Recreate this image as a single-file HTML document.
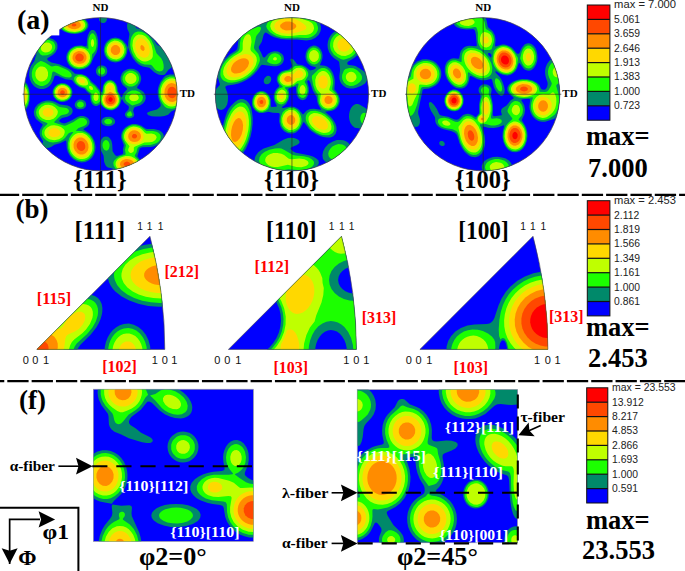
<!DOCTYPE html>
<html><head><meta charset="utf-8"><style>html,body{margin:0;padding:0;background:#fff;overflow:hidden}svg{display:block}</style></head><body>
<svg width="685" height="571" viewBox="0 0 685 571">
<defs>
<clipPath id="pf0"><circle cx="100.55" cy="94.25" r="76.6"/></clipPath>
<clipPath id="pf1"><circle cx="291.95" cy="94.25" r="76.6"/></clipPath>
<clipPath id="pf2"><circle cx="483.2" cy="94.25" r="76.6"/></clipPath>
<clipPath id="tr0"><path d="M36.80 349.40 L164.80 349.40 A437.02 437.02 0 0 0 149.91 236.29 Z"/></clipPath>
<clipPath id="tr1"><path d="M228.40 349.40 L356.40 349.40 A437.02 437.02 0 0 0 341.51 236.29 Z"/></clipPath>
<clipPath id="tr2"><path d="M419.90 349.40 L547.90 349.40 A437.02 437.02 0 0 0 533.01 236.29 Z"/></clipPath>
<clipPath id="od0"><rect x="93.3" y="389.2" width="160.1" height="152.4"/></clipPath>
<clipPath id="od1"><rect x="357.2" y="389.5" width="160.3" height="153.3"/></clipPath>
</defs>
<rect width="685" height="571" fill="#fff"/>
<g clip-path="url(#pf0)">
<rect x="22.95" y="16.65" width="155.2" height="155.2" fill="#0000ff"/>
<path d="M72.5 16.1 76.5 16.2 80 16.9 83.3 18.2 86 20 87.7 22.2 88.5 24.7 88.1 27.2 86.9 29.2 84.5 31.2 82 32.4 78.5 33.5 74.9 33.9 71.5 33.8 68 33.1 64.5 31.7 62.2 30.2 60.5 28.2 59.6 25.7 59.8 23.2 60.9 21.2 63.1 19.2 65.8 17.7 69 16.6ZM100.5 16.1 106 16.3 106.8 17.7 107 19.2 106.6 20.7 105.5 22.2 104 22.9 102.5 23 101 22.4 100 21.6 99.2 20.2 99 18.7 99.5 17.2ZM130.4 20.1 132.4 20.4 133.8 21.7 134.8 23.7 135.8 27.2 136.6 28.2 143.4 30 145.9 31.4 148.4 33.3 151.9 37.2 156.9 44.6 157.9 45.3 160.9 46.5 162.9 47.9 165.4 50.6 167.9 54.1 171.1 60.6 171.9 63.7 172 66.2 171.4 67.7 168.5 69.7 164.9 74.4 163.4 75 161.4 75.1 158.9 74.7 156.9 73.8 154.3 72.2 149.4 67.8 142.9 66.5 139.1 64.7 135.9 62 132.9 58.2 130.3 53.2 128.1 47.2 128.4 41.2 129.4 34.2 129.1 32.7 127.3 28.7 127 25.2 127.5 23.2 128.3 21.7 129.2 20.7ZM91.5 29.9 93.5 29.9 95 31 96.5 33.5 97.5 36.7 98.1 40.7 98.1 45.2 97.5 49.5 96.4 52.7 93.7 57.2 91.2 63.2 89.5 65.5 87.5 67.2 84 68.9 80.5 69.6 77 69.4 73.5 68.4 71.5 67.3 69.6 65.7 68.1 63.7 67.1 61.7 66.5 59.5 66.3 57.2 66.6 54.7 67.4 52.7 68.6 50.7 70.4 48.7 72.6 47.2 75 46.1 79.5 45.4 82 45.6 85.5 46.4 86.5 46.2 86.8 45.2 87.1 39.2 87.9 35.2 89.5 31.8ZM115.5 37.6 119.4 38.4 123 40.4 126.1 44.2 127.7 47.2 127.8 48.2 126.8 53.7 125.7 56.2 124.4 58.2 122.5 60 120.4 61.2 118 62.1 115.5 62.4 113 62.1 111 61.4 108.9 60.3 107.1 58.7 105.6 56.7 104.6 54.7 103.7 50.2 104.5 45.7 105.4 43.5 106.9 41.5 109 39.7 111 38.6 112.9 37.9ZM45 38.1 49.5 37.9 53.2 39.2 56.1 41.7 57 43.2 57.5 45.2 57.3 48.7 55.5 52.3 53 54.7 47.4 58.2 47.2 59.2 48.3 60.7 51.4 62.6 59 64.2 67 67.7 71 70 75 73.8 81.5 74 86 75.7 88.5 77.7 91.7 81.7 95.9 85.2 101.5 92.3 102 92.1 102.3 91.2 103 85.7 104.6 82.7 106 81.2 107.8 80.2 109.5 79.8 111.5 79.9 114 81.2 116.1 83.7 117.3 86.7 117.9 91.2 121.4 97.5 121.9 97.1 123.6 93.2 127.2 89.2 126.8 88.2 122.7 84.7 121 81.6 120.5 79.2 120.5 77.2 122 73.3 123.5 71.5 125.3 70.2 127.4 69.2 129.4 68.7 131.6 68.7 133.9 69.1 135.9 69.9 137.9 71.3 139.4 73 140.4 74.9 141.1 77.2 141.2 79.2 140.2 82.7 137.4 86.7 137 87.7 137.9 88.5 141.8 90.7 143.9 92.6 145.4 95.2 145.8 98.2 144.8 101.2 142.7 103.7 139.9 105.4 134.9 107.1 133.9 108.2 133.1 110.7 134.3 114.7 133.5 116.7 131.4 118 128.9 118.3 127 117.7 125.5 116.3 125 115.2 125 113.7 125.9 112.2 128.3 109.7 128.8 108.2 128.9 106.7 128.2 105.7 124.3 102.7 122 98.9 121.5 99.5 120.2 103.7 118.3 106.7 116 108.8 112.7 110.2 109.5 110.3 106 109.3 103.5 107.5 100.4 104 97 105.9 95.5 106 94 105.5 92.4 104.2 91 101.7 90.4 99.2 90.1 95.2 89.5 93.8 87 91.7 84.5 88.8 79.7 87.2 77 85.6 74.8 83.7 72.5 80.5 71.5 80 65.5 79.2 57.5 75.7 55.5 75.4 54.5 76.3 53 80.7 51.4 83.7 49.2 86.2 46.5 88 43.5 89 40 89 37 88 34.2 86.2 31.7 83.2 29.8 79.2 29.1 74.7 29.5 70.2 30.9 66.1 34.5 60.7 35.2 57.7 36.4 54.7 35.4 48.7 35.6 46.7 36.3 44.7 37.6 42.7 39.6 40.7 42 39.2ZM100 65.5 102.5 65.4 104.4 66 106 67.3 107 69.2 107.3 71.7 106.7 73.7 105.4 75.2 103.5 76.4 101 76.7 99 76.1 97.2 74.7 96.1 72.7 95.9 70.2 96.7 68.2 98 66.6ZM169.4 74.6 171.9 74.4 173.9 74.5 176.4 75.4 178.9 76.9 178.9 107.9 176.4 109.3 171.5 111.2 168.1 114.7 164.4 116.1 160.4 116.6 155.4 116.6 151.7 116.2 148.5 115.2 147 113.7 147.4 112.7 148 112.2 150.3 111.2 156.9 109.4 158.9 108 160.6 106.2 160.7 104.2 158.6 98.7 157.8 94.7 157.7 90.7 158.5 86.7 160.4 82 163.9 77.2 165.9 75.6ZM23 82.1 24.5 81.9 25.5 82.2 27.6 84.7 29.2 89.2 29.9 94.7 29.6 100.2 28.5 105.2 26.5 108.8 25.5 109.7 24 110.1 22.5 109.6 22.4 83.7 22.5 82.4ZM61.5 83.1 65.5 83.5 68.8 85.2 71.4 88.2 72.5 91.7 72 95.6 70.1 98.7 67 101 63.5 102 61 102 59 101.5 56 99.8 53.5 96.7 52.5 93.2 52.9 89.7 54.6 86.7 57.5 84.3ZM80 99.6 82 99.8 84 100.6 85.5 102.1 86.1 103.7 86.1 105.6 85.3 107.2 83.5 108.7 81.4 109.3 79.5 109.3 77.3 108.7 75.5 107.2 74.8 105.7 74.8 103.7 75.9 101.7 77.9 100.1ZM46.5 100.6 49.5 100.6 52 101 55 102 60 104.4 67.5 105.4 70.1 106.7 72 108.5 72.6 110.2 72.6 111.7 72.1 113.2 70.9 114.7 68 116.4 62 117.9 59.7 119.7 59.1 121.2 61.3 122.7 64 123.4 66 123.1 72.5 120 77.5 116.9 80.5 116 83 116 85 116.4 87 117.4 88.5 118.8 89.5 121.1 89.5 122.7 89.1 124.2 87.6 126.2 83.7 128.7 83.5 129.2 83.8 129.7 89.2 133.2 92.3 136.7 94.7 141.7 95.6 146.7 95.2 150.7 94 154.5 92 157.7 89.5 160 85.5 162 81.5 162.4 77 161.4 73 159 69.9 155.7 67.7 151.7 66.7 147.7 66.4 141.7 66 140.6 65 140.8 60.5 142.9 54.5 144.7 51 147 49 147.8 47 148 45 147.7 43.5 147.2 42.3 146.2 41.9 144.7 43 142.2 43.1 141.2 40.2 136.2 39.5 132.7 40 129.7 42.6 125.2 42.6 124.2 38 120.8 35.9 118.7 34.2 115.2 33.8 111.7 35 107.7 37.8 104.2 42 101.7ZM105.5 117.1 109.5 116.7 111.5 117.2 113.2 118.2 114.3 119.2 115 120.7 115.1 122.2 114.4 123.7 112 125.6 109 126.3 106 126.1 103 124.7 101.5 122.7 101.5 120.4 103 118.3ZM132.4 124.1 135.9 124 138.9 124.7 141.4 125.7 145.4 128.5 146.9 129.1 153.9 129 158.9 130.2 161.4 131.7 163.1 133.7 163.8 135.7 163.7 138.2 162.8 140.2 161.2 142.2 158.9 144 156.4 145.3 153.4 146.4 150.4 147 142.4 147.2 140.9 147.7 139.7 148.6 137.3 156.2 140.6 160.7 141.3 162.7 141.4 164.7 140.4 167.7 137.8 170.7 134.2 172.7 119.7 172.7 112.5 168.6 107.9 167.5 106.5 166.5 105.5 165.2 104.1 161.7 103.6 155.7 101.1 150.7 100.3 148.2 99.9 145.2 100.3 142.2 101.5 139.3 103.5 137.1 105.5 136.4 108 136.8 110 138.4 111.5 141.1 112.2 144.2 112.6 151.2 115 155 116 155.8 117 155.9 122.5 154.2 123.3 153.1 123 149.2 123.9 145.2 121.3 138.2 121.2 135.2 121.7 132.7 123.2 129.7 125.5 127.2 128.8 125.2Z" fill="#00896a"/>
<path d="M72 17.1 75.5 17.1 79 17.6 82 18.7 84.5 20.2 86.1 22.2 86.9 24.2 86.7 26.7 85.6 28.7 83.9 30.2 81.2 31.7 78 32.6 75 33 71.4 32.8 68.5 32.2 65.7 31.2 63.4 29.7 62.1 28.2 61.1 26.2 61.1 24.2 62 22 63.7 20.2 66 18.7 68.9 17.7ZM137.9 31.6 141.4 31.8 144.9 33.2 148.4 36 151.4 40 153.7 44.7 156.4 52.9 157.4 54.3 161.2 58.2 162.8 61.2 163.6 64.7 163.7 67.7 163.2 69.7 161.9 71.1 159.4 71.6 156.9 70.7 154.9 69.2 151.9 65.6 150.6 64.7 144.4 64.4 140.9 63.3 137.3 60.7 133.9 56.6 132 52.7 130.7 48.7 130.2 44.7 130.5 40.7 131.4 37.1 133.1 34.2 134.9 32.5ZM91.5 33.5 92.5 33.2 93.5 33.5 95.3 35.7 96.4 39.7 96.7 43.7 96.3 47.2 95.5 50 94.5 51.7 92.1 54.2 91.5 59.2 90.4 62.2 89.1 64.2 87.5 65.7 85.5 67.1 83 68 80.5 68.5 78 68.4 73.5 67 70 64.2 68 60.7 67.5 56.7 68.7 52.7 70.1 50.7 71.9 49 74.5 47.5 77 46.8 81.5 46.6 84 47.3 87.5 48.8 88.4 48.7 88.3 42.2 88.7 38.7 90 35.2ZM114 39.1 118 39.3 120 40 122 41.3 124.7 44.7 126 48.7 125.7 52.7 123.9 56.7 121 59.4 119 60.4 116.9 60.9 112.9 60.6 111 59.9 109 58.7 106.5 55.6 105.1 51.7 105.2 47.7 107 43.6 110 40.7 112 39.6ZM45 40.1 49 39.9 52.5 41.3 54 42.6 54.8 44.2 55.3 45.7 55.3 47.7 54.6 49.7 53.7 51.2 51 53.7 47 55.2 42.5 55.6 40.5 54.4 38.5 51.7 37.8 49.7 37.8 47.2 38.7 44.7 40.3 42.7 42.5 41.1ZM40.5 61.1 42 61.2 45 62.5 51 66.2 52 66.4 55.5 65.8 58 66 65.8 69.2 68.5 70.7 70.7 72.7 71.7 74.7 71.6 76.2 71 76.9 69.5 77.5 66 77.3 62.8 76.2 54.5 71.8 53 71.6 52.2 72.7 51.4 77.2 50.5 79.7 49.4 81.7 47.6 83.7 45.5 85.1 43 85.9 40.5 85.9 38 85.1 35.2 83.2 33.1 80.2 31.9 76.7 31.8 72.7 32.6 69.2 34.5 65.7 37 63.3ZM101 67.6 102.5 67.6 103.5 68 104.4 69 105 70.2 105 71.7 104.7 72.7 103.9 73.7 102.5 74.4 101 74.4 100 74.1 98.8 73.2 98.2 71.7 98.2 70.2 98.6 69.2 99.6 68.2ZM129.4 70.6 132.9 70.8 135.9 72.2 137.9 74.3 139.1 77.2 139 80.2 137.6 83.2 135.4 85.2 132.4 86.5 128.9 86.4 126 85 123.6 82.7 122.5 79.7 122.6 76.7 124.1 73.7 126.5 71.7ZM78.4 75.1 80.5 75 83 75.5 85 76.3 87 77.7 88.5 79.3 90.5 82.7 94.8 86.2 99 91.6 100.9 95.6 102 94.7 103.3 92.2 103.8 86.7 104.4 84.8 105.6 83.2 107.5 81.6 109.5 81 111.5 81.2 113.5 82.2 114.8 83.7 115.7 85.2 116.3 87.2 116.8 91.2 119.1 95.2 119.9 97.7 119.8 101.7 119.2 103.7 118 105.7 116.5 107.3 114.3 108.7 112 109.4 109.5 109.4 106.5 108.5 104 106.7 102.3 104.7 100.5 100.9 98.2 103.2 96.9 103.8 95.5 103.9 94 103.2 93 102.1 91.9 100 91.5 97.7 91.5 94.2 91 92.9 88 90.7 85.5 87.7 81.5 86.6 79 85.6 76.5 83.7 74.9 81.6 74.1 79.2 74.4 77.2 76 75.9ZM169.9 76.6 172.4 76.4 174.4 76.7 176.9 77.6 178.9 78.9 178.9 106 175.4 107.9 171.9 108.7 167.4 108.3 165.9 107.6 164.4 106.2 162.2 103.2 160.6 100.2 159.6 97.2 159 93.7 159.1 90.7 159.6 87.7 160.5 85.2 161.9 82.3 163.4 80.4 165.4 78.6 167.4 77.4ZM23.5 84.1 24.5 84 25.5 84.5 27.1 86.7 28.4 90.5 29 95.2 28.7 100.2 27.7 104.2 26 107 25 107.8 24 108 22.5 107.4 22.5 84.6ZM61 84.1 64.5 84.2 67.5 85.4 69.9 87.7 71.3 90.7 71.3 94.2 70 97.2 67.5 99.6 64.5 100.8 61 100.9 57.6 99.7 55 97.2 53.7 94.2 53.7 90.7 55.1 87.7 57.5 85.5ZM131.9 90.6 135.9 90.6 139.4 91.9 141.9 94.2 143 97.2 142.3 100.2 140.4 102.4 137.9 103.8 132.4 105.5 131.4 105.1 126.8 101.7 125.4 99.7 125 97.7 125.5 95.2 126.9 93.2 129 91.7ZM79.4 101.6 82 101.8 83.6 103.2 83.9 105.2 83.4 106.2 82.5 107 81 107.5 79.5 107.4 78 106.7 77.3 105.7 77 104.7 77.4 103.1 78.3 102.2ZM45.5 102.6 49 102.4 52.5 103.1 54.9 104.2 59.5 106.9 66.5 107.9 68 108.9 68.9 110.2 68.9 111.7 68 113.2 66 114.3 62 115.1 60.5 115.8 54.3 121.7 54.2 122.2 54.9 122.7 63.4 125.5 65 125.7 66.5 125.3 73.5 121.9 77.9 118.9 79.9 118.1 83.5 118 85 118.7 86.2 119.7 86.8 120.7 87.1 122.2 86.7 123.7 86 124.7 84 126 78.5 128.1 75.7 130.7 82 131.2 86 132.7 89.8 135.7 92.5 139.7 94 144.7 94.1 147.7 93.9 150.2 93.1 152.7 92 155.1 89 158.5 87 159.7 84.2 160.7 81.5 160.9 79 160.5 76.5 159.5 74 157.9 72 156 70.2 153.7 69 150.9 68.2 148.2 68 142.7 69.2 138.2 70.6 135.7 73.3 132.2 73 131.9 71 132.2 69 133 67.8 134.2 65.2 137.7 63.5 139.3 60.5 141 57 142 53 142.4 49.5 141.9 46.5 140.4 43.5 137.7 42.5 135.9 41.8 134.2 42 130.7 43.6 127.7 47.6 123.7 47 122.9 41.5 120.8 39 119 36.7 115.7 36 112.2 36.7 109.2 38.6 106.2 41.5 104ZM129.4 111.4 130.4 111.2 130.9 111.5 132.2 114.2 132.1 115.2 131.4 115.9 129.4 116.6 127.8 116.2 126.9 114.7 127.5 113ZM106.5 119 108.9 118.8 111 119.5 112.2 121.2 111.8 122.7 110.8 123.7 109 124.2 106.9 124.2 105.5 123.5 104.5 122.4 104.2 121.2 105 119.9ZM131.4 125.6 135.4 125.2 138.9 126 141.4 127.2 146.4 131 152.9 130.9 156.5 131.7 158.4 132.7 160 134.2 160.7 135.7 160.8 137.7 160.1 139.7 158.9 141.2 157.1 142.7 154.9 143.8 150.4 145 142.9 145.3 139.4 146.6 137.8 147.7 137.3 148.7 136.6 152.2 134.7 155.6 135.3 156.7 138.4 159.7 139.5 161.7 140 164.7 139.2 167.2 136.5 170.2 132.9 172 130.6 172.7 123.4 172.6 119.1 171.2 115.7 168.7 113.7 165.7 113.3 162.7 114.1 160.7 116.7 158.2 119.5 156.6 125 154.7 125.7 154.2 125 149.7 126 145.2 122.9 139.1 122.5 136.7 122.7 134.2 123.8 131.2 125.8 128.7 128.4 126.7ZM105.5 140.1 107 140.2 108.2 141.2 109.1 142.7 109.6 144.7 109.5 146.6 108.9 148.7 108 150 106.5 150.7 105 150.3 104 149.4 103 147.7 102.5 145.7 102.6 143.7 103.1 142.2 104 140.9Z" fill="#1cff00"/>
<path d="M72 18.1 75 18.1 78 18.5 80.5 19.3 83 20.7 84.5 22.3 85.2 24.2 85.2 26.2 84.1 28.2 82.4 29.7 80.5 30.7 78 31.5 75 31.9 69.5 31.4 67 30.4 64.9 29.2 63.5 27.7 62.8 26.2 62.8 24.2 63.5 22.5 65 20.8 66.7 19.7 69.3 18.7ZM138.4 34.6 141.9 34.7 143.9 35.5 145.9 36.8 149.4 40.7 151.6 45.2 152.8 50.7 152.8 56.2 152.3 57.7 151.2 59.2 147.9 61.1 145.9 61.5 143.9 61.5 141.9 60.9 139.9 59.8 137.9 58.2 136.2 56.2 133.6 51.2 132.4 45.7 132.9 40.5 133.9 38.2 135 36.7 136.4 35.5ZM92.5 39 93 39.2 93.7 40.2 94.2 43.2 93.5 46.2 92.5 47 91.4 46.2 90.8 43.2 91.3 40.2ZM114.5 40.6 118 40.9 121.2 42.7 123.5 45.7 124.5 49.2 124.1 52.7 122.5 56 120 58.2 116.5 59.4 113 59.1 110 57.4 107.7 54.7 106.6 51.2 106.8 47.7 108.4 44.2 110.9 41.9ZM46.5 42.6 49 42.8 51 44 52 45.7 52.1 47.7 51.3 49.7 49.5 51.4 47.5 52.2 45 52.4 43 51.7 41.7 50.7 41 49.2 40.9 47.1 41.5 45.7 42.8 44.2 44.4 43.1ZM77 48.1 81 47.9 85 49.1 88.1 51.7 89.8 54.7 90.1 58.2 89 61.9 86.4 64.9 83 66.7 79 67.2 74.6 66.2 71.3 63.7 69.3 60.2 68.9 58.2 69 56.2 70.3 52.7 71.5 51.2 73.2 49.7ZM40 66.6 42.5 66.4 45 67.3 47 69.5 48 72.2 48 75.7 47 78.4 45 80.6 42.5 81.6 40 81.4 38 80.2 36.3 78.2 35.4 75.7 35.4 72.7 36.1 70.2 38 67.8ZM129.5 73.1 131.9 73.1 133.9 73.9 135.4 75.2 136.4 77.2 136.5 79.2 135.9 81.2 134.4 82.8 132.4 83.8 129.9 83.9 127.9 83.3 126.5 82.1 125.3 80.2 125.1 77.7 125.9 75.7 127.5 74ZM79 76.6 82.5 76.7 84.5 77.5 86 78.6 87.2 80.2 87.8 81.7 88.1 83.2 87.8 84.7 86 85.5 83 85.6 80 84.7 78 83.3 76.5 81.2 76.2 79.2 76.9 77.6ZM169.9 78.6 172.4 78.3 174.4 78.7 176.9 79.7 178.9 81.2 178.9 103.8 175.9 105.8 172.9 106.6 170.4 106.6 168.4 106.1 164.9 103.7 163.2 101.7 161.9 99.4 161 96.7 160.6 94.2 160.9 88.7 162.7 84.2 164.2 82.2 165.9 80.5 167.9 79.2ZM109 82.6 110.4 82.5 112 82.9 113.5 84 114.3 85.2 115.1 87.2 115.7 91.7 118 95.2 119 98.7 118.7 102.2 117 105.4 114.1 107.7 111 108.5 108 108.1 105 106.4 102.9 103.7 101.9 100.2 102.3 96.7 104.6 92.2 104.7 88.2 105.2 86.2 107 83.7ZM61.5 85.1 64.5 85.3 67 86.4 69 88.2 70.2 91.2 70.2 94.2 69 96.7 66.9 98.7 64 99.8 60.9 99.8 58 98.6 56 96.6 54.7 93.7 54.9 90.7 56.1 88.2 58.5 86.1ZM89.5 86 90.9 86.1 92.4 87.1 93.1 88.7 92.8 89.7 91.5 90 89.8 89.2 88.9 87.2 89 86.5ZM24 86.6 25.5 87.3 26.9 89.7 27.7 92.7 27.9 96.2 27.6 99.7 26.8 102.7 25.5 104.7 24 105.4 22.5 104.6 22.4 96.2 22.5 87.4ZM95.5 92.6 96.5 92.8 97.5 93.6 98.3 95.2 98.6 96.7 98.5 98.2 98 99.7 97 100.8 95.9 101 95 100.7 94 99.7 93.4 97.2 94 94.2 94.6 93.2ZM131.9 94.1 134.9 93.8 136.4 94.3 137.7 95.2 138.8 97.2 138.6 98.7 137.9 99.7 136.4 100.7 133.9 101.3 131.9 100.9 130.4 100 129.4 98.7 129.3 96.7 130.3 95.2ZM45 105.1 48.5 104.7 52 105.4 55 107.2 57.2 109.7 57.9 111.7 57.4 114.2 55.8 116.7 53.5 118.7 50 120 46 120 42.5 118.6 39.9 116.2 38.8 113.2 38.8 111.2 39.3 109.7 41.5 106.9ZM51 125.6 54 125.2 57.6 125.7 61 127.1 63.8 129.2 64.7 130.7 64.7 132.7 63.8 135.2 62.3 137.2 59 139.3 54.5 140.2 50 139.4 48 138.4 46.4 137.2 45.2 135.7 44.6 134.2 44.4 132.2 44.8 130.7 45.6 129.2 47 127.7 49 126.4ZM133.4 126.6 136.9 126.9 139.9 128 141.9 129.4 144.9 132.8 146.4 133.8 151.4 133.6 154.4 134.3 156.1 135.7 156.7 137.6 155.4 139.9 152.8 141.7 149.9 142.3 144.4 142.4 139.4 144.8 134.6 146.7 133.8 147.7 133.9 150.2 133.4 151.7 131.9 152.8 130.4 152.9 128.9 152.1 128.1 150.2 128.4 148.7 129.5 146.2 124.9 140.2 124.1 137.7 124.1 135.2 125 132.2 127 129.5 129.9 127.6ZM78 133.1 80 132.9 82.5 133.1 84.9 134 86.8 135.2 90.1 138.7 92.1 143.2 92.5 148.2 92.1 150.7 91.1 153.2 88.4 156.7 86.5 158 84.5 158.8 82.5 159.1 80 158.9 77.5 158.2 75.5 157 73.5 155.3 72 153.4 70.7 151.2 69.8 148.6 69.5 143.7 69.9 141.1 70.9 138.7 72.3 136.7 74 135 76 133.8ZM125.5 156.1 128.9 155.9 131.4 156.4 134.7 158.2 136.9 160.2 138.1 162.2 138.3 164.7 137.4 167.2 135.4 169.3 133.4 170.5 130.9 171.4 128.4 171.8 125.5 171.8 122.9 171.4 120.4 170.4 118.4 169.2 116.9 167.7 116 166.2 115.5 164.2 115.8 162.2 116.6 160.7 118 159.1 120.2 157.7 122.8 156.7Z" fill="#bfff00"/>
<path d="M71 19.6 73.5 19.3 76.5 19.4 79 20.1 80.9 21.1 82.5 22.7 83.3 24.2 83.3 25.7 82.7 27.2 81.5 28.5 80 29.4 76 30.6 71.5 30.5 67.5 29.1 66 27.9 65 26.7 64.6 25.2 64.9 23.7 65.9 22.2 67 21.2ZM138.9 38.5 141.4 38.3 144.4 39.5 146.9 42 148.9 45.7 149.8 49.7 149.6 53.1 148.1 56.2 145.9 57.6 143.4 57.7 140.4 56.4 137.9 53.9 136 50.2 135.2 46.7 135.4 43.1 136.8 40.2ZM114 42.6 117 42.6 119.4 43.7 121.4 45.7 122.5 48.2 122.6 51.2 121.5 54.2 119.5 56.3 117 57.4 114 57.4 111.5 56.3 109.5 54.2 108.4 51.7 108.4 48.6 109.5 45.9 111.5 43.7ZM77 49.6 80.5 49.3 83.5 50.1 86.4 52.2 88 54.7 88.5 57.7 87.8 60.7 86 63.3 83 65.1 79.5 65.8 76 65.1 72.9 63.2 71 60.2 70.5 56.7 71.5 53.7 73.7 51.2ZM80.5 78.6 82 78.7 84 79.7 85 81.2 84.8 82.7 84 83.3 82.5 83.4 81 83 79.8 82.2 79.1 81.2 78.9 80.2 79.4 79.2ZM170.4 80.6 172.9 80.5 174.9 81 177 82.2 178.9 84 178.9 101 176.4 103.2 172.9 104.5 169.4 104.1 167.4 103.2 165.9 102 163.4 98.3 162.3 94.1 162.5 89.7 164.3 85.2 166.9 82.2ZM109 84.6 110.9 84.5 112 85.1 113 86.2 113.7 88.2 114 91.7 117 95.5 118 98.7 117.7 101.7 116.5 104.3 114.5 106.2 111.5 107.3 108.5 107.1 105.8 105.7 103.9 103.2 103 100.2 103.5 96.7 106.2 92.2 106.6 87.2 107.5 85.6ZM60.5 86.6 63 86.3 65.5 86.9 67.2 88.2 68.6 90.2 69.1 92.7 68.5 95.2 67 97.1 65 98.3 62.5 98.7 60 98.2 57.6 96.7 56.3 94.7 55.9 92.2 56.7 89.7 58.4 87.7ZM23.5 90.4 24.5 90.3 25.5 91.4 26.1 93.2 26.4 95.7 26.2 98.2 25.6 100.2 25 101.3 24 101.8 23 101.2 22.5 100.4 22.5 91.6ZM46.5 108.1 48.5 107.9 50.5 108.4 52 109.4 53 110.6 53.4 112.2 53.2 113.7 52.2 115.2 51 116.1 49 116.8 46.5 116.7 44.5 115.7 43.1 114.2 42.6 112.2 43.1 110.7 44.5 109.1ZM54 128.1 56 128.3 58.1 129.2 59.8 130.7 60.4 132.2 60.3 133.7 59.4 135.2 58 136.3 56 137.1 53.5 137.2 51.3 136.7 49.5 135.4 48.4 133.7 48.4 131.7 49.5 130 51.5 128.7ZM131.9 128.6 135.4 128.3 138.4 129.1 140.9 130.8 142.9 133.7 143.7 136.7 143.2 139.2 141.1 141.7 138.4 143.4 134.9 144.2 131.4 143.8 128.4 142 126.4 139.2 125.8 135.7 126.7 132.7 128.9 130.2ZM78.5 135.1 80.5 134.9 82.5 135.2 86 136.9 88.6 139.7 90.4 143.7 90.7 148.2 89.5 152.2 87.1 155.2 84 156.8 82 157.1 80 156.9 76.5 155.4 73.5 152.4 71.6 148.2 71.3 143.7 72.5 139.9 75 136.8 76.5 135.8ZM124.9 157.6 128 157.4 130.9 158 133.4 159.1 135.2 160.7 136.3 162.7 136.5 164.7 135.7 166.7 134.4 168.1 130.9 170 126.5 170.6 122.1 169.7 119 167.5 118 166.2 117.5 164.7 117.5 163.1 118.1 161.7 120.6 159.2 122.6 158.2Z" fill="#ffd800"/>
<path d="M71.5 21.1 75.5 20.9 79 22.1 80.1 23.2 80.7 24.2 80.8 25.7 80.3 26.7 78.5 28.2 75.1 29.2 72 29 69 27.8 67.4 26.2 67.3 24.2 69 22.2ZM114.5 45.1 116.5 45.1 118 45.7 119.5 47.2 120.2 49.2 120.2 51.2 119.4 52.9 118.2 54.2 116.5 54.9 114.5 54.9 113 54.3 111.5 52.7 110.8 51.2 110.8 49.2 111.5 47.3 113 45.7ZM141.4 45.1 142.9 45.4 144.4 47.3 144.6 49.7 143.4 50.9 141.9 50.6 140.5 48.7 140.4 46.3ZM78.5 51.1 81 51.2 83.5 52.1 85.4 54 86.4 56.2 86.5 58.7 85.3 61.2 83.5 62.9 81 63.8 78 63.8 75.4 62.8 73.7 61.2 72.5 58.7 72.6 56.2 73.8 53.6 76 51.9ZM171.4 83.1 173.9 83.4 175.9 84.4 177.7 86.2 178.9 88.5 178.9 96.5 178.4 97.6 177.4 99.2 175.9 100.6 174.4 101.4 172.4 101.9 169.4 101.4 166.9 99.6 165.1 96.7 164.4 93.2 164.8 89.2 166.3 86.2 168.4 84.1ZM61 88.1 63 87.9 64.5 88.2 66 89.2 67 90.7 67.4 92.2 67.1 94.2 66.1 95.7 64.5 96.8 62.5 97.2 60.5 96.7 58.8 95.7 57.9 94.2 57.6 92.2 58 90.7 59.1 89.2ZM110 88.6 110.4 89.2 109.9 89.9 109.7 89.2ZM109.5 92 110 91.8 111 92 114.5 94.3 116 96.3 116.7 98.7 116.6 101.2 115.5 103.5 113.7 105.2 111.5 106 109 105.9 107 104.9 105.3 103.2 104.3 100.7 104.4 98.2 105.1 96.2 106.5 94.4ZM132.4 130.6 134.9 130.3 137.4 131 139.2 132.2 140.6 134.2 141 136.2 140.7 138.2 139.3 140.2 137.4 141.4 134.9 142.1 132.4 141.8 130.3 140.7 128.7 138.7 128.1 136.7 128.5 134.2 129.9 132.1ZM79 137.6 82 137.6 84.5 138.7 86.9 141.2 88.3 144.2 88.5 147.7 87.7 150.7 85.6 153.2 83 154.4 80 154.4 77.3 153.2 75 150.7 73.7 147.7 73.5 144.2 74.4 141.2 76.5 138.8ZM125.9 159.1 128.4 159.2 130.4 159.7 132.3 160.7 133.3 161.7 134 163.2 134.1 164.7 133.4 166.1 132.5 167.1 129.4 168.6 126.5 168.9 123.1 168.2 121 166.6 120.3 165.6 119.9 164.2 120.5 162 122.5 160.2Z" fill="#ff8c00"/>
<path d="M73 23.6 74.5 23.5 76 24.1 76.4 24.7 76.2 25.7 74.5 26.5 72.4 26.2 71.8 25.7 71.6 24.7ZM78.5 53.6 80 53.6 81.4 54 82.5 54.7 83.6 56.2 83.8 57.7 83.4 59.2 82.5 60.4 81 61.2 79 61.4 77.5 61 76.3 60.2 75.4 58.7 75.2 57.2 75.7 55.7 77 54.3ZM170.4 87 172.4 86.8 173.9 87.2 175.4 88.6 176.4 90.7 176.7 93.2 175.9 95.6 174.8 97.2 172.9 98.2 170.9 98.1 169.4 97.3 168.4 96.2 167.5 94.2 167.4 91.7 167.9 89.7 168.9 88.1ZM61.5 90.5 63 90.3 64.5 91.2 64.9 92.7 64 94.3 63 94.7 62 94.7 60.5 93.7 60.1 92.7 60.3 91.7ZM109.5 94.6 111.5 94.6 113 95.2 114.3 96.7 115.1 98.7 115.1 100.7 114.5 102.2 113.1 103.7 111.5 104.3 109.5 104.3 107.9 103.7 106.5 102.2 105.9 100.6 105.9 98.7 106.5 97 107.5 95.7ZM133.4 134 135.4 134 136.9 135.2 137.1 136.7 135.9 138.2 133.9 138.5 132.9 138.1 132.1 137.2 131.9 136.2 132.2 135.2ZM80 141.1 82 141.3 83.4 142.1 84.5 143.2 85.2 145.2 85.3 147.2 84.9 148.7 83.6 150.2 82 150.9 80 150.7 78.5 149.8 77.5 148.6 76.7 146.7 76.7 144.7 77.3 143.2 78.5 141.8ZM127 161.6 129.1 162.2 130.4 163.7 130 165.2 128.4 166.2 125.5 166.2 124.4 165.6 123.7 164.7 123.6 163.7 124.2 162.7 125.5 161.9Z" fill="#ff4800"/>
<path d="M110.5 97.1 112 97.7 112.6 98.7 112.7 99.7 112 101.3 110.5 101.9 109 101.2 108.3 99.7 109 97.8Z" fill="#ff0000"/>
</g>
<circle cx="100.55" cy="94.25" r="76.6" fill="none" stroke="#444" stroke-width="0.7"/>
<line x1="22.45" y1="94.25" x2="178.65" y2="94.25" stroke="#222" stroke-width="0.6"/>
<line x1="100.55" y1="17.65" x2="100.55" y2="170.85" stroke="#222" stroke-width="0.6"/>
<text x="100.55" y="11.1" font-family='"Liberation Serif", serif' font-size="11" font-weight="bold" fill="#000" text-anchor="middle" >ND</text>
<text x="179.65" y="97" font-family='"Liberation Serif", serif' font-size="11" font-weight="bold" fill="#000" text-anchor="start" >TD</text>
<g clip-path="url(#pf1)">
<rect x="214.35" y="16.65" width="155.2" height="155.2" fill="#0000ff"/>
<path d="M271.9 16.1 311.2 16.2 316 18.7 319.2 22.2 320.3 24.2 320.9 26.7 320.9 29.2 320.5 31.2 318.7 34.7 315.4 37.7 311.4 39.7 306.4 40.5 296.9 39.5 286.9 39.6 280.9 39 274.4 37.2 271.2 35.7 266.9 32.9 265.9 32.5 264.9 32.7 263.6 34.7 261.8 41.7 259 46.2 258.7 47.2 259 48.7 261.1 52.7 262.9 57 263.9 57.6 264.9 57.2 268.4 53.6 271.4 51.9 274.4 51.2 277.9 51.6 281 53.2 282.4 54.4 283.4 56 284 59.2 283.1 62.2 281.9 63.7 280.4 64.9 278.4 65.8 276.4 66.3 273.4 66.3 261.9 64.8 260.4 66 257.1 70.7 253.9 74.2 250.4 77.2 246.3 79.9 242.3 82 238.3 83.5 234.3 84.4 227.3 85.5 225.8 86.2 225.4 86.7 225.4 87.7 227.3 92.7 228 96.6 227.9 100.7 227.2 104.2 225.8 107.1 223.8 109.1 221.3 110 218.8 109.4 216.8 107.7 215.2 104.7 214.2 101.2 214 97.2 214.5 93.7 215.5 90.7 216.8 88.2 219.6 85.2 220 84.2 218.1 78.2 217.7 74.2 218.4 69.7 220.4 65.2 223.1 61.2 226.3 57.7 229.8 54.6 235.7 50.7 237.1 49.2 237.6 47.2 238.4 40.2 239.6 35.7 241.8 30.7 244.3 27.4 245.8 26.2 247.8 25.2 252.3 24.5 257.9 22.4 263.9 21.3 269.8 17.2ZM342.4 28.6 345.9 28.6 348.9 29.3 351.9 30.5 354.3 32.2 356.4 34.2 358.4 36.9 359.6 39.7 360.3 42.7 360.5 45.7 360.2 48.2 359.3 51.2 358 53.7 356.4 55.9 354.4 57.8 348 61.7 347.3 62.7 347.4 64.2 348.9 65.1 352.9 65.5 355.4 66.1 360.1 68.7 363.4 70.9 365.2 72.7 366.5 74.7 367.1 76.7 367.2 78.7 366.7 80.7 365.9 82.3 364.7 83.7 361.3 85.7 356.3 87.7 353.4 88.5 349.9 88.6 346.4 87.7 343.4 85.7 341.1 83.2 339.9 80.7 339.4 78.2 339.4 75.7 340.1 69.7 339.2 62.2 338.4 61 333.9 58 331.4 55.6 329.2 52.2 327.8 48.2 327.5 44.7 328 41.2 329 38.2 330.8 35.2 333.1 32.7 335.9 30.7 338.9 29.4ZM313.4 45.6 315.9 45.8 318.5 47.2 320.5 49.2 322 52.2 322.6 55.2 322.4 58.2 321.7 60.7 320 64.7 320.1 65.2 324.9 65.7 327.4 66.7 330.4 69.1 332.7 72.7 334 76.2 334.7 79.7 334.8 82.7 334.3 89.2 338.2 94.2 339.7 98.2 339.8 101.2 339.2 103.7 338 106.2 336.3 108.2 334.4 109.7 331.9 110.8 325 111.7 330.4 116.6 332.9 119.4 335.2 123.2 336.4 126.7 336.6 130.2 335.6 133.7 333.4 136.2 330.4 137.4 326.9 137.6 323.4 137 319.4 135.8 315.9 134.1 312.4 131.8 309.4 129.2 303.9 122.1 303.4 122.2 300.1 128.7 296.9 131.8 294.9 132.9 292.4 133.6 289.9 133.6 287.4 132.9 284.9 131.7 283.1 130.2 281.5 128.2 280.2 125.7 279.2 121.2 279.7 114.7 279.4 113.2 278.4 112.9 272.9 112.8 268.4 111.7 262.9 113.1 259.4 112.9 256.9 111.7 254.9 110.2 253 107.7 252.1 105.2 251.9 102.2 252.2 99.7 253 97.2 254 95.2 255.3 93.5 257.4 92 259.4 91.2 261.9 90.9 263.9 91.2 265.9 92.2 267.7 93.7 269.3 95.7 270.8 99.7 270.8 106.2 271.4 107 275.4 106.8 277.1 106.2 274.4 101.1 273.6 96.7 274.1 93.7 275 91.2 276.4 89 278.8 86.7 279.3 85.7 277.4 82.2 276.7 80.2 276.8 77.7 277.7 75.2 279.3 73.2 281.4 71.6 283.9 70.6 288.9 69.4 291.5 67.2 292.1 66.2 292.1 65.2 290.5 60.2 290.6 59.2 291.4 58.6 293.4 59.6 296.9 63.9 297.9 64.4 301.9 64.9 304.4 65.9 306.3 67.2 309.9 70.4 313.4 69.8 314.9 69.1 316 67.7 315.9 67.2 311.4 66.1 309.4 64.8 307.7 63.2 306.1 60.2 305.4 56.7 305.9 52.7 307.5 49.2 310.2 46.7ZM308.1 80.2 307.4 80.9 307.1 81.7 308.7 87.2 308.8 91.7 307.8 95.7 305.9 98.7 304.4 99.8 302.4 100.2 300.4 99.6 298.7 98.2 297.4 96.2 296.6 93.7 296.2 91.2 296.2 87.2 295.9 86.4 294.9 86.5 288.9 88.3 288.1 89.2 289.1 92.7 289.4 95.6 288.5 99.7 286.4 103.4 284.9 104.9 282.3 106.7 281.8 107.2 282 107.7 283.4 108 290.4 106.4 294.4 107 296.4 107.9 298.4 109.3 302.9 114.4 303.4 114.2 306.5 110.7 309.9 109.1 313.9 108.8 320.4 109.8 321.3 109.7 318 104.2 317.3 101.7 316.6 96.7 312.9 90.4 310.2 82.2 308.9 80.2ZM266.9 76.1 268.4 75.7 269.9 76.2 270.9 77.3 271.3 79.2 270.9 81.1 269.9 82.7 268.4 83.9 266.4 84.2 265.4 83.9 264.4 83.2 263.9 82.2 263.7 80.7 264.1 79.2 264.9 77.7ZM240.8 99.1 243.8 99.2 246.7 100.7 248.9 103.2 251 107.2 252.1 112.2 252.7 117.7 252.6 123.7 251.9 130.2 250.5 136.7 248.5 142.7 246.1 148.2 243.3 152.8 240.3 156.5 237.3 159.2 233.8 160.8 230.8 160.9 228.3 160.1 225.9 157.9 223.9 154.7 222.6 151.2 221.7 146.6 221.3 141.7 221.4 136.2 222.1 130.2 223.3 124.2 225.1 117.7 227.2 111.7 228.7 108.7 231.1 105.7 234.9 102.1 237.8 100.1ZM355.9 104.1 357.9 104.1 359.4 104.5 365.4 108.1 367.9 110.4 369.4 112.9 370.3 116.6 370.2 122.2 368.5 126.2 367.4 127.5 365.9 128.5 363.4 128.9 354.9 127.7 352.4 125.8 350.3 122.7 349.5 120.2 349 117.2 349.1 114.2 349.7 111.2 350.9 108.3 352.4 106.2 353.9 105ZM287.9 138.1 290.9 137.7 293.9 138 296.9 138.9 298.8 140.2 299.6 141.7 299.4 142.7 298.9 143.5 296.9 144.9 291.4 147.2 290.6 148.2 290.8 149.2 292.9 151.2 295.9 152.8 308.8 155.2 312.9 156.5 316 158.2 318.3 160.2 318.9 162.2 318.5 164.2 316.7 166.7 314.8 168.2 312 169.7 306.4 171.4 300.4 172 290.4 171.8 285.3 172.7 267.2 172.7 261.9 170.4 257.9 167.4 255.3 163.7 254.7 161.7 254.6 159.7 254.9 157.7 255.7 155.7 258.3 152.2 260.9 150.2 263.7 148.6 274.4 145 283.4 139.7ZM336.8 140.1 340.4 139.9 343.4 140.2 346 141.2 348.2 142.7 349.8 144.7 350.8 147.2 351 149.7 350.4 152.7 348.9 155.7 346.9 158.2 344.4 160.4 341.4 162.2 338.4 163.3 334.9 164 331.4 164 328.4 163.2 324.8 161.2 322.9 158.7 322.4 155.2 323.2 151.2 325 147.7 328.4 144.1 332.9 141.4Z" fill="#00896a"/>
<path d="M276.4 16.1 301.5 16.2 309.6 18.2 313.6 20.2 316.6 23.2 317.9 26.7 318 28.7 317.6 30.7 316.3 33.2 313.9 35.6 310.9 37.2 307.9 37.9 304.9 38.1 297.4 37.5 285.9 37.9 281.4 37.4 276.8 36.2 272.9 34.3 269.9 32.2 267.1 28.7 266.2 26.2 267.2 23.2 269.6 20.2 272.9 17.7ZM257.4 27 258.9 26.7 260.4 27.1 260.9 27.7 261.1 28.7 259.9 31.6 256.8 35.2 256 36.7 254.1 46.2 254 47.7 254.4 49.2 258.3 53.7 259.7 57.7 259.9 60.2 259.5 62.1 256.9 67.7 253.9 71.7 250.3 75.2 246 78.2 241.3 80.5 236.4 82.1 231.8 82.7 227.8 82.4 224.3 81.1 222.8 79.9 221.5 78.2 220.6 76.2 220.3 74.2 220.7 69.7 222.9 64.7 225.4 61.2 228.8 57.7 232 55.2 237.5 51.7 239 50.2 239.6 48.2 240 42.7 240.8 38.3 242.4 34.4 244.5 31.2 246.2 29.7 247.8 28.9 253.3 28.7ZM342.4 31.1 345.4 31.1 348.4 31.7 350.9 32.8 353.4 34.6 355.2 36.7 356.7 39.2 357.6 41.7 358 44.7 357.7 47.7 357 50.2 355.7 52.7 354.1 54.7 352.4 56.2 349.9 57.7 345.4 59.3 343.4 59.7 341.4 59.2 337.9 57.6 333.9 54.7 331.2 50.7 330.4 48.2 330 45.7 330.1 43.2 330.7 40.7 331.8 38.2 333.4 35.9 335.2 34.2 337.4 32.7 339.9 31.6ZM312.8 47.6 315.4 47.7 318.1 49.2 320 51.7 320.9 54.7 320.8 58.2 319.6 61.2 317.4 63.5 314.9 64.5 312.4 64.3 309.9 62.8 307.9 60.2 307.1 57.2 307.3 53.7 308.4 51 310.4 48.7ZM272.9 53.6 275.4 53.3 277.4 53.7 279.3 54.7 280.7 56.2 281.5 58.2 281.3 60.2 280.4 61.9 278.9 63.2 276.4 64.2 273.4 64.2 269.8 63.2 267.4 61.7 267.2 60.7 267.5 59.7 269.2 56.2 270.9 54.6ZM294.9 66 299.9 66 302.9 66.8 305.7 68.7 307.7 71.7 308.3 73.7 308.1 75.7 304.6 81.7 306.5 85.2 307.4 88.2 307.4 91.7 306.6 94.7 305.3 96.7 303.4 97.9 301.4 97.8 299.3 96.2 298.2 94.2 297.6 91.2 297.6 88.2 298.6 84.2 298.4 83.4 296.9 83.6 293.6 85.7 291.4 86.5 285.4 87.3 284.7 87.7 287 90.6 287.9 93.7 288 96.7 287.3 99.2 285.9 101.8 283.9 103.6 281.4 104.5 278.9 104.1 276.9 102.5 275.5 100.2 274.9 97.2 275.3 94.2 276.2 91.7 277.9 89.4 279.4 88.3 282.6 87.2 282.9 86.7 279.9 83.7 278.6 81.7 278 79.2 278.4 76.7 279.9 74.4 281.9 72.7 284.9 71.4 290.4 70.3ZM321.8 68.1 324.4 68.1 326.9 69.1 328.9 70.7 330.9 73.3 332.2 76.7 332.9 80.2 333 83.2 332.2 88.2 332.3 89.7 336.6 94.2 337.7 96.2 338.3 98.2 338.3 102.2 336.8 105.7 333.9 108.4 330.4 109.8 327.4 109.9 324.9 109.3 322.4 107.9 320.4 105.8 319.2 103.7 318.6 101.7 318.2 95.2 314.9 90.1 313.2 85.2 311.8 77.7 312 75.7 318.2 69.7 319.9 68.7ZM349.4 68.1 353.4 68.3 356.9 69.9 360.3 73.2 361.5 75.2 362 76.7 361.9 79.2 360.2 81.7 356.9 84.3 353.4 85.7 349.9 85.9 346.4 84.7 343.9 82.5 342.3 79.2 342 77.2 342.2 74.7 343.9 70.5 345.4 69.1ZM260.4 92.1 263.9 92.4 266.8 94.2 268.9 97 269.9 100.7 269.7 104.7 268.2 108.7 265.9 110.8 262.4 112 258.9 111.5 256 109.7 253.9 106.7 253 103.2 253.3 99.2 254.9 95.8 257.4 93.3ZM240.3 102.6 242.8 102.6 245.4 103.8 247.5 106.2 249.3 109.7 250.3 113.7 250.9 118.7 250.9 124.1 250.3 129.7 249 135.7 247.3 140.9 245.3 145.5 242.8 149.9 239.8 153.7 236.8 156.1 233.9 157.4 231.3 157.4 228.8 156.4 227.1 154.7 225.4 151.8 224.2 148.6 223.3 144.4 223 139.7 223.2 134.6 223.8 129.7 226.4 119.7 228.2 115.2 230.3 111.2 232.8 107.7 235.3 105.2 237.8 103.5ZM289.4 108.1 293.4 108.3 295.4 109.1 297.4 110.4 299 112.2 300.2 114.2 301 116.2 301.5 118.7 301.5 121.2 301 123.7 299.1 127.7 297.8 129.2 295.9 130.6 293.9 131.6 291.9 132 289.9 131.9 287.9 131.4 284.4 129.3 281.9 125.9 280.6 121.7 280.9 116.9 282.7 112.2 285.4 109.7ZM310.8 111.1 315.4 110.8 320.4 111.9 324.9 114.2 329.4 117.9 332.4 121.8 334.1 126.2 334.3 128.2 334.1 130.2 333.5 131.7 332.4 133.2 330.4 134.5 328.3 135.2 325.4 135.3 322.4 134.9 319.4 133.9 316.4 132.5 313.4 130.5 310.7 128.2 308.6 125.7 306.8 122.7 305.9 120.2 305.7 117.7 306 115.7 307 113.7 308.6 112.2ZM362.9 113.1 364.4 112.7 365.9 113.2 367.4 114.8 368.1 117.2 368.3 119.7 367.7 122.2 366.4 124.2 364.9 124.8 363.4 124.5 362.3 123.7 361 121.7 360.4 119.7 360.3 117.7 360.8 115.7 361.6 114.2ZM338.4 144.1 342.4 144.4 344 145.2 345.4 146.2 346.3 147.7 346.7 149.7 346.1 153.2 344.9 155.2 343.5 156.7 339.9 159 335.9 160 333.9 159.9 331.9 159.3 329.9 158 328.7 156.2 328.2 153.7 328.8 151.2 330.3 148.7 332.4 146.6 335.4 144.9ZM274.9 148.6 278.9 148.2 281.4 148.5 284.4 149.9 292.9 154.9 295.4 155.5 303.9 156.2 308.9 157.5 311.8 159.2 313.3 160.7 314 162.1 313.9 164.2 312.6 166.2 310.4 167.7 306.9 169.1 302.9 169.9 297.9 170 288.4 169.3 279.9 170.7 275.9 171 271.4 170.6 266.9 169.3 263.1 167.2 260.3 164.2 259 160.7 259.6 157.2 261.6 154.2 264.9 151.7 269.4 149.8Z" fill="#1cff00"/>
<path d="M283.9 16.1 292.3 16.2 294.4 16.5 298.7 17.7 308.9 21.2 311.9 23.1 313.4 25.2 314.1 28.2 313.4 30.7 312.4 32.2 310.5 33.7 308.4 34.5 305.9 35 299.4 35 291.4 36 286.9 36.1 281.4 35.4 276.4 33.7 273.3 31.7 271.1 29.2 270.2 26.2 270.7 23.7 272.4 21.2 275.4 18.9 279.3 17.2ZM342.4 34.1 344.9 34.1 346.9 34.4 350.5 36.2 353.4 39.2 354.4 41.3 354.9 43.7 354.7 47.7 353.9 49.7 352.7 51.7 351.4 53.2 349.4 54.6 345.4 55.9 341.4 55.7 337.4 53.7 334.6 50.7 333.1 46.7 333.3 42.7 333.9 40.7 335 38.7 336.4 37.1 338.2 35.7 340.4 34.6ZM246.8 34.6 248.4 34.2 249.3 34.6 250.3 35.6 251 37.2 251.5 41.7 250.5 48.2 250.5 49.7 251.3 51.2 255.1 54.7 256.5 57.2 256.9 60.7 255.8 64.9 253.7 68.7 250.8 72 247.4 75 243.3 77.5 239.3 79.2 234.8 80.2 230.8 80.2 227.8 79.4 225.2 77.7 223.4 74.7 223.1 71.2 224.1 67.2 226.4 63.2 230 59.2 233.9 56.2 240.8 52.2 242.2 50.7 242.7 49.2 242.7 43.2 243.3 39.7 244.8 36.5ZM313.4 50 315.4 50.2 316.9 51.2 318.4 53.1 318.9 55.2 318.8 57.7 317.9 59.8 316.4 61.3 314.4 62 312.4 61.7 310.9 60.6 309.6 58.7 309.1 56.7 309.3 54.2 310.2 52.1 311.8 50.7ZM274.9 57.1 276.4 57.6 276.9 58.7 276.7 59.7 275.4 60.4 273.9 60.2 273 59.2 273.4 57.9ZM296.4 68.1 298.9 67.7 301.4 68.1 303.4 69.1 304.9 70.5 305.8 72.2 306.1 74.2 305.6 76.2 304.3 78.2 301.9 79.9 297.4 81 293.5 84.2 290.4 85.5 287.9 85.8 285.4 85.5 283.3 84.7 281.4 83.2 280 81.2 279.6 79.2 280.1 76.7 281.4 74.8 282.9 73.6 285.1 72.7 291.4 71.8 294.4 69.2ZM321.9 71.1 323.9 71.1 325.9 71.8 327.6 73.2 329.1 75.2 330.3 78.2 330.8 81.7 330.6 84.7 329.3 89.2 329.4 90.2 334.7 94.2 336.1 96.2 336.8 98.2 336.8 101.7 335.6 104.7 333.4 107 330.4 108.3 327.9 108.5 325.4 107.9 323.2 106.7 321.4 104.7 320.4 102.7 320 100.2 320.9 93.7 317 89.2 315.5 85.2 315.2 80.2 316.3 76.2 318.9 72.7ZM349.4 72.1 351.4 71.8 353.4 72.3 355.2 73.7 356.3 75.7 356.5 77.7 355.9 79.5 354.4 81.1 352.9 81.9 350.9 82.2 348.9 81.7 347.3 80.7 346.1 78.7 345.8 76.7 346.3 74.7 347.5 73.2ZM302.4 85.1 303.9 85.6 304.7 86.7 305.4 88.2 305.6 90.2 305.2 92.2 304.5 93.7 303.4 94.7 302.4 94.9 301.4 94.5 300.4 93.5 299.8 92.2 299.4 90.2 299.7 88.2 300.3 86.7 301.4 85.4ZM281.9 89.6 283.9 90.2 285.4 91.6 286.2 93.7 286.4 96.2 285.8 98.7 284.5 100.7 282.9 101.9 280.9 102.3 279.4 101.9 277.8 100.6 276.8 98.7 276.6 96.2 277.1 93.7 278.4 91.5 279.9 90.2ZM259.4 93.6 262.4 93.3 265.4 94.5 267.4 96.7 268.7 100.2 268.8 103.7 267.5 107.2 265.4 109.5 262.9 110.6 259.9 110.5 257.4 109.2 255.3 106.9 254.3 104.2 254.2 100.7 255.1 97.7 256.9 95.2ZM239.8 106.6 242.3 106.7 244.3 107.8 246 109.7 247.4 112.3 248.3 115.8 248.9 120.2 248.9 124.7 248.4 129.6 247.3 134.5 245.9 139.3 243.9 143.7 241.8 147.2 239.3 150.3 237.1 152.2 234.8 153.2 232.3 153.5 230.4 152.7 228.9 151.5 227.3 149.3 226.1 146.1 225.4 142.7 225.1 138.7 225.7 130.1 227.8 121.5 231.3 114 233.4 111.1 235.3 109 237.8 107.3ZM288.9 110.1 292.4 109.9 294.4 110.5 295.9 111.4 298.4 114.2 299.8 118.2 299.7 122.2 298.4 125.8 295.9 128.6 292.4 130.1 288.9 129.9 285.9 128.3 283.6 125.7 282.3 122.2 282.2 118.2 283.4 114.7 285.8 111.7ZM313.9 113.1 317.4 113.2 321.4 114.5 325 116.7 328.3 119.7 330.4 122.6 331.5 126.2 331.3 129.2 329.9 131.3 328.4 132.3 326.4 132.8 323.9 132.9 321.4 132.5 316.1 130.2 311.9 126.5 310.4 124.5 309.1 122.2 308.5 119.7 308.5 117.7 309 116.2 310.2 114.7 311.9 113.7ZM273.4 153.1 277.4 152.9 281.4 153.8 284.1 155.1 288.4 158.5 289.9 159.1 291.9 159.2 299.4 158.6 304.4 159.3 306.4 160.2 307.8 161.2 308.4 162.2 308.5 163.7 307.4 165.1 305.9 166.1 301.4 167.3 296.4 167.1 287.9 164.8 277.9 167 274.4 167 271.4 166.4 268.5 165.2 266.4 163.3 265.2 161.2 265.2 159.2 266 157.2 267.9 155.3 270.4 154Z" fill="#bfff00"/>
<path d="M287.9 18.1 291.4 18.4 294.4 19 297.6 20.2 300.5 21.7 303.5 23.7 305.7 25.7 306.4 27.2 306.1 28.7 303.8 30.2 297.8 32.2 293.4 33.3 288.9 33.8 284.9 33.6 281.4 32.9 278.4 31.6 275.8 29.7 274.6 27.7 274.3 25.7 274.9 23.7 276 22.2 278.4 20.4 281.3 19.2 284.4 18.4ZM341.9 38.6 344.4 38.3 346.9 38.9 348.9 40.3 350.3 42.7 350.7 45.2 350.2 47.7 348.9 49.7 346.4 51.3 343.9 51.7 341.3 51.2 339.1 49.7 337.6 47.2 337.3 44.7 337.9 42.2 339.4 40.1ZM244.8 54.1 247.3 54.2 249.8 55.1 251.9 56.7 253.2 58.7 253.6 60.7 253.3 63.2 252.5 65.7 250.8 68.3 248.8 70.7 246 73.2 242.8 75.1 239.8 76.4 236.8 77.2 233.8 77.4 231.3 77.1 228.8 75.9 227 73.7 226.4 70.7 227.2 67.2 229.2 63.7 232.3 60.2 235.8 57.6 240.3 55.4ZM298.9 70.1 301.4 70.8 303 72.7 303.3 73.7 303.1 75.2 301.5 77.2 299.9 77.8 295.9 78.3 293.3 82.2 291.9 83.2 289.9 84 287.4 84.2 285.4 83.8 283.9 83 282.4 81.7 281.6 80.2 281.5 78.2 282.2 76.7 283.6 75.2 285.4 74.2 287.4 73.8 293.4 74.2 296.1 71.2 297.4 70.4ZM321.9 75.5 323.9 75.4 325.9 76.6 327.2 78.7 327.8 81.2 327.7 83.7 326.8 86.2 325.4 87.9 323.4 88.7 321.4 88.3 319.9 87.2 318.9 85.4 318.3 83.2 318.3 80.7 318.9 78.6 320.1 76.7ZM281.4 93 282.4 93.1 283.2 93.7 283.9 95.7 283.6 97.2 283 98.2 281.4 99 280.4 98.8 279.7 98.2 279.1 96.2 279.9 94ZM327.4 93.1 329.9 93.4 332.5 94.7 334.3 96.7 335.1 99.2 335 101.7 333.7 104.2 331.9 105.8 329.4 106.6 326.9 106.5 324.4 105.2 322.9 103.5 321.9 101.2 322 98.2 323.2 95.7 324.9 94ZM259.9 95 262.4 94.8 264.9 95.9 266.7 98.2 267.5 100.7 267.5 103.7 266.5 106.2 264.8 108.2 262.4 109.2 259.9 109 257.9 107.8 256.4 106 255.5 103.7 255.5 100.7 256.3 98.2 257.9 96.2ZM238.8 111.5 240.8 111.4 242.3 112 243.9 113.4 245.1 115.7 245.9 118.2 246.4 121.7 246.1 129.1 244.1 137.2 242.6 140.7 240.9 143.7 238.8 146.1 237 147.7 235.3 148.4 233.3 148.6 231.9 148.1 230.3 146.8 229.3 145.2 228.3 142.7 227.5 137.2 227.9 130.7 229.6 123.7 232.3 117.7 235.3 113.7 237.3 112.2ZM289.9 112.1 292.9 112.3 295.3 113.7 296.9 115.7 297.9 118.7 297.8 121.7 296.7 124.7 294.4 127 291.9 127.9 289.4 127.8 286.9 126.4 285 124.2 284.1 121.2 284.2 118.2 285.4 115.3 287.4 113.2ZM316.9 116.1 319.4 116.6 321.9 117.7 324.4 119.3 326.4 121.5 327.5 123.7 328 125.7 327.6 127.7 326.4 129 325 129.7 323.4 129.8 319.9 129.2 316.4 127.2 313.8 124.7 312.2 121.7 312 120.2 312.3 118.7 313.9 116.8Z" fill="#ffd800"/>
<path d="M285.8 21.6 289.9 21.6 293.5 22.7 295.9 24.7 296.3 26.2 296 27.2 293.9 29.2 290.4 30.3 285.9 30.4 282.4 29.2 280.3 27.2 280.1 25.7 280.4 24.7 282.7 22.7ZM241.8 58.5 243.8 58.3 245.8 58.6 247.2 59.2 248.3 60.2 248.9 61.7 249 63.2 247.8 66.7 244.8 70.2 240.6 72.7 236.3 73.6 234.3 73.4 232.9 72.8 231.6 71.7 231 69.7 231.2 67.7 232.3 65.2 233.8 63.1 236.3 61 238.9 59.6ZM286.9 76.1 289.4 76.1 291.4 77.4 291.8 79.2 291.5 80.2 290.7 81.2 289.4 81.8 287.9 82 286.2 81.7 284.8 80.6 284.3 79.7 284.4 78.2 285.4 76.9ZM327.4 96 328.9 95.9 330.4 96.4 331.4 97.2 332.4 98.6 332.6 100.2 332.2 101.7 331.4 102.9 329.9 103.8 328.4 104.1 326.7 103.7 325.4 102.7 324.6 101.2 324.4 99.7 324.9 98.1 325.9 96.8ZM259.9 97 261.9 96.7 263.4 97.2 265 98.7 265.9 100.7 266 102.7 265.4 104.8 263.9 106.6 262.4 107.2 260.9 107.3 259.3 106.7 257.9 105.2 257.2 103.7 257 101.7 257.4 99.7 258.4 98.1ZM290.9 115.1 292.9 115.6 294.1 116.7 295 118.2 295.3 120.2 294.9 122.2 293.9 123.7 292.4 124.6 290.9 124.9 289.4 124.5 287.9 123.3 287 121.7 286.7 120.2 287 118.2 287.9 116.7 289.4 115.5ZM238.3 118.1 239.7 118.2 240.7 118.7 242.3 121.2 243.1 125.2 242.8 129.7 241.7 134.2 239.8 138.2 237.3 141.1 235.8 141.8 234.8 142 233.8 141.7 232.8 140.9 231.6 138.7 231 135.2 231.2 130.7 232.2 126.2 233.9 122.3 235.8 119.6Z" fill="#ff8c00"/>
<path d="M260.9 100 262.4 100.1 263.3 101.7 263.1 103.2 261.9 104.1 260.4 103.7 259.7 102.7 259.8 101.2Z" fill="#ff4800"/>
</g>
<circle cx="291.95" cy="94.25" r="76.6" fill="none" stroke="#444" stroke-width="0.7"/>
<line x1="213.85" y1="94.25" x2="370.05" y2="94.25" stroke="#222" stroke-width="0.6"/>
<line x1="291.95" y1="17.65" x2="291.95" y2="170.85" stroke="#222" stroke-width="0.6"/>
<text x="291.95" y="11.1" font-family='"Liberation Serif", serif' font-size="11" font-weight="bold" fill="#000" text-anchor="middle" >ND</text>
<text x="371.05" y="97" font-family='"Liberation Serif", serif' font-size="11" font-weight="bold" fill="#000" text-anchor="start" >TD</text>
<g clip-path="url(#pf2)">
<rect x="405.6" y="16.65" width="155.2" height="155.2" fill="#0000ff"/>
<path d="M458.6 16.1 484.8 16.2 486.5 20.2 487.8 26.7 488.6 27.8 492.6 31.3 494.8 35.2 495.6 39.7 495 45.7 495.6 46.6 502.1 44.6 504.6 44.6 507.1 45.2 509.6 46.2 511.7 47.6 513.8 49.7 516.6 53.2 518.1 54.1 519.4 53.2 521.9 47.7 524.6 44.6 526.1 43.7 528.1 43.2 530.1 43.4 532.1 44.4 534.1 46.2 535.6 48.6 536.6 51.2 537.3 54.7 537.5 58.2 537.1 61.2 536.1 64.3 534.6 67.1 533.1 68.8 531.1 70.2 529.1 70.7 527.1 70.6 525.1 69.7 523.6 68.5 519.6 62.9 519.1 63 518.6 63.7 517.1 68.2 515.4 71.2 513.1 73.3 510.1 74.9 507.1 75.4 503.6 75.1 500.1 73.8 496.1 71.2 495.4 71.2 495.6 72.7 499.1 76.2 501.1 79.1 502.6 82.2 504 86.2 504.7 89.7 504.5 92.2 503.6 94.8 502.1 95.8 500.6 95.7 499.1 94.8 496 91.2 493.9 87.2 492.1 80.1 491.1 78.8 485.6 80.2 481.6 80.2 477.1 79 471.1 76 470.1 75.9 469.6 76.7 468.9 80.7 468.1 83.2 466.6 85.7 464.6 87.4 462.1 88.4 459.1 88.6 456.1 87.9 453.6 86.5 451.1 84.5 448.7 81.7 446.9 78.7 445.5 75.2 444.8 71.7 444.7 68.7 445.2 65.7 446.5 62.6 448.6 60.2 451.1 58.8 453.6 58.3 458.1 58.8 459.1 58.5 460.1 53.2 460.8 51.2 462.6 48.7 464.6 47.1 466.6 46.2 469.1 45.8 476.1 46.3 476.6 46.1 476.9 45.2 475.8 34.2 475.2 31.2 474.4 29.7 473.1 29.1 466.6 29.5 461.1 28.8 457 27.2 455.6 26.2 454.1 24.5 453.3 22.2 453.7 20.2 455.6 17.8ZM488 53.2 488 54.2 489.1 56 490.6 57.6 491.1 57.4 491.5 55.2 491.1 54 489.6 53.1ZM555.1 57.6 558.6 57.5 561.6 58.5 561.6 85.8 560.4 87.2 559.9 89.2 560.8 97.2 560.8 102.2 560.2 107.6 559 112.2 556.6 116.6 555.1 118.1 553.6 119 545.1 121.7 542.1 121.8 539.1 121.2 536.6 120 534.1 117.9 532.1 115.4 530.7 112.7 529.8 109.7 529.4 106.7 530.2 99.2 528.6 98.7 523.1 99.2 521.4 99.7 521.3 100.2 524.2 105.2 525.1 109.7 524.4 114.2 522 119.2 521.8 120.2 524.9 125.2 526.3 128.2 527.3 132.2 527.5 136.2 526.9 140.7 525.3 145.2 522.9 148.7 519.7 151.2 516.1 152.3 512.1 151.9 510.1 151.1 508.1 149.7 505.3 146.2 503.5 142.2 502.5 137.2 502.7 132.2 504.1 126.2 504.1 125.6 503.6 125.2 498.1 127.2 493.6 127.9 488.1 127.7 483.6 126.5 483 126.7 482.9 127.7 484.6 135.7 485.1 141.2 484.7 145.7 483.6 149.9 481.5 153.7 478.6 156.2 475.1 157.2 471.6 156.7 469.3 155.7 467.1 154.1 464.6 151.7 462.6 149 459.7 143.7 457.1 135.3 456.1 133.7 454.6 132.6 451.1 131.1 444.6 129.6 441.1 128.2 438 126.2 436.1 123.7 435.4 121.7 435 117.2 431.1 111 429.3 106.7 428.8 103.7 429.1 102.7 429.6 102.2 430.6 102.1 431.6 102.6 434.1 104.9 436.7 108.7 439.3 114.2 440.1 115.1 441.1 115.6 448 116.7 454.6 119.4 456.6 119.8 458.6 119.2 463.1 115 466.1 113.9 468.1 113.8 470.1 114.2 472.6 115.3 475.1 117 476.1 117 479.1 113.2 479.1 104.5 480.7 96.2 480.4 94.7 478.6 91.2 478.7 88.7 479.3 87.2 480.6 85.8 482.1 84.8 484.1 84.2 486.6 84.4 488.6 85.2 490.4 86.7 491.5 88.7 491.6 90.7 490.8 94.7 492.9 104.2 493.1 108.7 492.7 114.6 492.9 115.7 493.6 116.1 494.6 116.2 499.9 115.6 501.6 115.2 501.8 114.7 501 111.2 501.6 109 503 107.7 506.6 105.4 510.1 101.1 513.8 98.2 513.3 97.2 509.2 93.7 507.4 90.7 507.4 87.7 508.3 85.7 509.4 84.2 512.7 81.7 517.1 79.9 522.1 79.1 527.6 79.2 532.6 80.4 536.9 82.7 539.4 85.2 541.1 88.7 542.1 89.6 544.1 89.8 545.6 89.3 547 87.2 547.7 84.2 547.5 82.2 545.8 77.2 545.2 74.2 545.1 70.7 545.7 67.2 547.2 63.7 549.4 60.7 552.1 58.7ZM422.1 59.6 426.1 59.3 429.6 59.8 433.1 61.1 436.1 63.1 438.5 65.7 440.3 68.7 441.2 71.7 441.3 75.2 440.7 78.1 439.6 80.7 437.9 83.2 435.8 85.2 431.6 87.6 428.6 88.4 424.1 89 423.1 89.4 422.6 90.2 418.1 111.6 418.3 114.2 419.9 119.2 419.9 122.7 419.2 124.7 418.1 126.2 417.1 126.8 415.6 127.1 413.6 126.2 410.1 122.8 406.6 121.3 405.1 120.4 405.1 79.6 408.9 75.2 410.6 68.9 413.1 64.9 417.1 61.5ZM453.1 89.6 455.1 89.5 457.1 89.9 460.1 91.9 462.6 95.3 463.8 99.7 463.2 104.2 461.4 107.7 458.5 110.2 456.6 111 454.6 111.3 452.6 111.3 450.6 110.7 447.5 108.7 445.2 105.2 444.2 101.2 444.7 97.2 446.6 93.4 449.6 90.8ZM440.6 141 442.6 141 444.2 142.2 444.9 144.2 444 145.7 443.1 146.1 441.6 146 439.6 144.7 439.2 142.7 439.7 141.7ZM493.1 157.1 497.6 156.8 502.1 157.4 505.8 158.6 509.1 160.8 511.2 163.2 512.2 166.2 512 169.2 510.2 172.2 509.7 172.7 484.3 172.7 482.7 170.6 481.8 168.2 481.8 165.7 482.8 163.2 484.6 161 487.1 159.2 490.1 157.9Z" fill="#00896a"/>
<path d="M464.6 16.1 470.1 16.2 476.6 18 481.1 17.6 483.1 18.9 484.6 22.1 485.7 28.2 486.6 29.2 491.1 32.3 492.6 34.4 493.5 36.7 494 39.2 493.8 42.2 491.6 49.2 489.6 49.9 484.6 50.1 482.1 49.3 480.6 47.8 479.1 45.3 478.2 42.7 477.8 39.7 477.9 32.7 477.1 29.2 476.1 27.3 474.6 26.9 468.6 27.9 464.1 27.8 460.1 26.7 457.1 24.6 456.4 23.7 456 22.2 456.3 20.7 457.1 19.4 460.1 17.3ZM527.6 45.6 529.1 45.5 530.6 46 533.3 48.2 535.1 51.7 536 56.2 535.6 60.7 534.1 64.7 531.6 67.5 530.1 68.2 528.6 68.5 526.1 67.9 524 66.2 522.1 63.2 520.1 58.2 521.6 52.4 523 49.2 525.1 46.8ZM501.1 46.1 503.6 45.8 506.1 46.1 508.6 47 510.5 48.2 514 51.7 517.8 57.7 518 59.2 517.2 64.2 515.9 68.2 513.2 71.7 511.6 72.9 509.6 73.7 507.6 74.2 505.1 74.1 502.6 73.5 500.1 72.3 497.9 70.7 496.1 68.7 494.3 66.2 493.2 63.7 492.7 61.2 492.6 58.2 493.8 51.2 495 49.7 497.1 48ZM468.1 48.1 472.1 47.7 476.6 48.7 481.1 50.4 484.1 53 488.5 58.2 491.3 63.2 492.3 67.7 492 72.2 490.8 74.7 488.7 76.7 486.1 77.8 483.1 78.3 480.1 78 476.6 77 473.6 75.5 469.1 72.5 468.1 72.2 467.8 73.2 467.6 79.7 466.8 82.2 465.6 84.1 463.9 85.7 461.6 86.7 459.6 86.9 457.1 86.5 454.6 85.4 452.3 83.7 450.1 81.3 448.4 78.7 447.1 75.7 446.4 72.7 446.2 69.7 446.6 66.6 447.3 64.7 448.7 62.7 450.1 61.4 452.1 60.4 455.6 60.2 460.6 61.9 461.6 61.8 461.8 55.7 462.6 52.7 463.6 51 465 49.7ZM423.6 61.1 427.1 61.1 430.1 61.7 433.1 63.1 435.8 65.2 437.7 67.7 439 70.7 439.5 73.7 439.1 77.2 438.1 79.7 436.8 81.7 435.1 83.5 433.1 84.9 428.7 86.7 422.6 87.1 421.3 87.7 420.8 88.7 417.1 104.7 414.6 111.4 413.1 114 412 115.2 410.1 116 408.1 115.9 406.6 115 405.1 112.9 405.1 82.6 406.8 80.2 410.7 76.7 412.1 70.1 413.1 67.9 414.6 65.8 416.4 64.2 418.6 62.7 421.1 61.7ZM555.6 61.1 558.6 61.2 561.6 62.5 561.6 81.5 557 84.2 556.2 85.7 558.1 92.7 558.9 97.2 558.9 102.7 558.1 108 556.1 112.8 554.6 114.7 552.6 116.3 549.1 118.4 546.1 119.6 543.1 120 540.6 119.7 537.6 118.5 535.2 116.7 533.2 114.2 531.8 111.2 531.1 108.2 531 105.2 531.5 102.2 532.8 98.2 532.7 97.2 523.1 98 519.6 97.7 516.1 96.8 512.6 94.9 510.3 92.7 509.1 90.2 509.2 87.7 510.1 85.7 511.4 84.2 515.3 81.7 520.6 80.2 526.6 80.1 529.6 80.7 532.6 81.6 536.6 84.1 538.7 87.2 539.6 91.7 545.1 91.9 547.1 91.5 548.4 90.2 551.1 85.7 551.8 83.7 551.4 82.2 549.1 77.5 548.2 74.7 548 71.2 548.6 68.2 549.7 65.7 551.1 63.7 553.1 62.1ZM495.6 78.6 496.6 78.3 498.1 79 499.6 80.6 501.1 83.4 501.9 86.2 502.2 88.7 501.8 90.7 501.1 91.5 500.1 91.6 498.6 90.8 496.1 87.1 494.8 82.2 494.9 80.2ZM484.1 86.6 486.1 86.6 487.4 87.2 488.5 88.2 489.1 89.7 488.6 94.2 491.1 100.6 491.9 105.7 491.9 110.2 491 116.7 491.1 118.2 492.1 118.8 496.6 118.3 499.4 118.7 501.3 119.7 501.9 121.2 501.3 122.7 500.1 123.7 498.1 124.8 495.1 125.5 491.1 125.5 485.6 124.1 480.1 124.2 479.8 124.7 479.9 125.2 482.1 130.7 483.4 136.7 483.7 141.7 483.1 146 481.6 150.1 479.2 153.2 476.6 154.7 473.1 155 470.6 154.2 468.1 152.8 465.6 150.5 463.6 147.9 460.6 142.2 458.1 133.7 457.1 131.8 455.6 130.7 452.6 129.3 445.1 128 441.7 126.7 439.7 125.2 438.6 123.7 438 122.2 438 120.7 438.6 119.2 439.6 118.4 441.6 117.9 444.6 117.7 448.8 118.7 455.1 121.8 457.6 122.1 459.6 121.1 463.7 117.2 465.6 116.2 467.6 115.9 471.1 116.6 475.6 119.5 476.3 119.7 477.5 116.7 479.8 114.2 480.3 113.2 480 107.7 480.3 103.7 481 100.2 482.8 94.7 481.1 91.2 481 89.7 482 87.7ZM452.6 90.6 456.1 90.8 458.1 91.6 459.6 92.7 461.9 95.7 462.9 99.2 462.7 103.2 461.1 106.6 458.5 109.2 455.1 110.4 451.6 110.1 448.6 108.5 446.3 105.7 445.1 102 445.3 98.2 446.7 94.7 449.1 92.1ZM515.1 101.1 517.6 101.2 519.6 102.3 521.3 104.2 522.5 106.7 523 109.7 522.6 113.2 521.5 115.7 518.9 118.7 518.6 119.7 522.6 123.8 524.6 127 526 131.2 526.5 135.7 525.6 141.5 524.5 144.2 523.1 146.5 521.6 148.2 519.6 149.7 517.6 150.6 515.1 151 512.6 150.7 510.6 149.8 508.6 148.4 507 146.7 505.6 144.4 504.4 141.7 503.7 138.7 503.5 135.7 504.1 130.6 506 125.7 508.1 122.9 512.5 119.1 512.2 118.2 508.1 112.7 507.5 111.2 507.7 109.7 509.3 106.2 511.1 103.5 513.1 101.8ZM495.1 159.1 498.6 159.1 501.7 159.7 504.6 160.8 507.1 162.7 508.5 164.7 509 167.1 508.3 169.7 506.8 171.7 505.5 172.7 488.5 172.7 486.7 171.2 485.7 169.7 485 167.7 485.2 165.7 486.1 163.7 487.6 162 489.7 160.7 492.3 159.7Z" fill="#1cff00"/>
<path d="M465.1 18.1 469 18.2 472.2 19.2 473.6 20.2 474.4 21.2 474.6 22.2 474.3 23.2 472.1 24.9 468.6 25.9 464.6 25.8 461.6 24.7 460.3 23.7 459.8 22.7 459.7 21.7 460.1 20.7 461.9 19.2ZM484.6 32.1 487.6 32.7 489.6 34 491.1 36 491.9 38.7 491.9 41.7 490.8 44.7 489.1 46.5 486.6 47.5 484.6 47.3 482.5 46.2 481 44.2 480 41.2 480.1 37.7 481.1 34.5 482.6 32.7ZM503.1 47.1 507.1 47.7 509.1 48.7 511.1 50.1 514.3 54.2 516 58.7 516 63.7 514.6 67.9 513.4 69.7 511.7 71.2 510.1 72.1 508.1 72.7 506.1 72.9 503.6 72.5 501.5 71.7 499.2 70.2 497.3 68.2 495.9 66.2 494.1 61.4 493.8 58.7 494 56.2 494.6 53.7 495.6 51.7 497.1 49.8 499.1 48.3 501.1 47.5ZM527.1 48.6 529.6 48.5 531.6 49.8 533.2 52.2 534.1 55.7 534 59.2 533 62.2 531.1 64.7 529.1 65.6 527.1 65.4 525.1 63.9 523.6 61.4 522.8 58.2 522.9 55.2 523.8 52.2 525.1 50.1ZM470.6 50.1 475.1 50.4 479.6 52.2 483.6 55.2 487.1 59.3 489.2 63.7 490 68.2 489.8 70.2 489.1 72.1 488.1 73.5 486.8 74.7 484.6 75.7 482.1 76 479.6 75.8 476.6 74.8 474.1 73.6 471.4 71.7 468.7 69.2 466.8 66.7 465.4 64.2 464.4 61.2 464 58.2 464.3 55.7 465.1 53.6 466.6 51.8 468.5 50.7ZM452.6 62.5 454.1 62.2 456.1 62.3 459.6 63.8 462.8 66.7 464.9 70.2 466.1 74.7 465.8 79.2 465.1 81.1 464.1 82.6 461.6 84.4 460.1 84.8 458.1 84.7 454.6 83.3 451.6 80.6 449.1 76.5 447.9 72.2 448.2 67.7 449 65.7 450.1 64.2ZM423.6 63.1 426.6 63 429.6 63.6 432.1 64.8 434.4 66.7 436.1 69 437.1 71.7 437.4 74.7 436.9 77.2 436 79.2 434.6 81.2 432.9 82.7 430.6 84 426.6 85 420.1 84.5 419.1 84.9 418.4 90.7 417.4 93.7 414.8 98.7 412.3 104.7 411.1 106.1 409.6 106.4 408.8 105.7 408.2 104.2 407.7 97.7 405.7 90.7 405.6 87.7 406.1 85.2 407.1 83 408.6 81.3 413.4 78.7 413.7 72.2 414.6 69.7 415.8 67.7 417.1 66.2 419.2 64.7 421.3 63.7ZM555.6 67 557.6 66.8 559.1 67.4 560.3 68.7 561.2 70.7 561.3 72.7 560.6 74.9 559.1 76.6 557.6 77.3 556.1 77.3 554.6 76.5 553.5 75.2 552.8 73.2 552.7 71.2 553.1 69.7 554.1 68.1ZM523.1 81.1 526.6 81.3 530.1 82 532.8 83.2 535.1 84.8 536.6 86.8 537.2 89.2 536.7 91.2 535.4 93.2 533.4 94.7 530.6 95.8 527.2 96.7 524.1 96.9 520.6 96.6 517.6 95.9 514.8 94.7 512.8 93.2 511.6 91.7 510.9 89.7 511.1 87.7 512.1 85.7 514.1 83.8 516.6 82.5 519.6 81.6ZM452.6 91.6 455.7 91.7 458.7 93.2 460.9 95.7 462 99.2 461.9 102.7 460.6 105.8 458.1 108.3 455.1 109.5 452.1 109.3 449.1 107.7 447.1 105.3 446 102.2 446 98.7 447.4 95.2 449.6 92.9ZM552.1 92.5 553.6 92.5 554.6 93.4 555.6 95.4 556.2 98.2 556.4 101.2 556.1 104.7 555.3 107.7 554.2 110.2 552.4 112.7 550.6 114.5 546.6 117.2 544.6 117.8 542.6 117.9 540.6 117.6 538.6 116.7 536.6 115.3 535.2 113.7 534 111.7 533.2 109.2 532.8 106.7 532.9 104.2 533.5 101.7 534.6 99.2 536.6 96.7 539.6 94.7 543.1 94.1 548.6 94.6 549.8 94.2ZM485.1 97.1 486.1 96.9 487.6 97.6 488.6 98.8 489.6 100.9 490.6 105.7 490.5 111.2 489.1 116.4 486.3 121.2 484.1 122.8 481.6 123.2 480.1 122.8 478.7 121.7 477.9 120.2 477.8 118.7 478.6 116.6 481.7 113.7 481.3 107.7 481.8 103.2 483.1 99.3 484.1 97.9ZM514.6 105.1 516.6 104.9 518.1 105.6 519.1 106.7 519.9 108.7 520 110.7 519.5 112.7 518.1 114.4 516.6 115.2 515.1 115.1 513.6 114.3 512.6 113.1 511.8 111.2 511.7 109.7 512.3 107.7 513.2 106.2ZM466.6 118.5 468.6 118.4 470.6 118.8 473.1 120.1 475.1 121.7 478.6 126.4 481.1 132.7 481.8 136.2 482.1 139.7 482 142.7 481.4 145.7 480.4 148.2 479.1 150.1 477.6 151.4 475.6 152.4 473.6 152.6 471.6 152.3 469.2 151.2 467.1 149.5 465.1 147.2 463.4 144.7 462 141.7 460.8 138.2 458.5 128.2 458.5 126.7 463.1 120.6 464.6 119.4ZM444.1 120.5 446.6 120.6 448.8 121.7 450.3 123.2 450.3 124.7 449.1 125.4 447.6 125.7 445.6 125.4 443.7 124.7 442.6 123.6 442.1 122.2 442.7 121.2ZM513.6 121.6 515.6 121.4 517.6 121.9 519.6 122.9 521.5 124.7 524.1 128.8 525.3 134.1 524.9 139.7 524.1 142.2 522.8 144.7 521.2 146.7 519.6 148 517.6 149 515.6 149.4 513.6 149.3 511.6 148.7 509.6 147.4 508.1 145.9 505.7 141.7 504.7 136.7 505.1 131.4 507 126.7 508.5 124.7 510.1 123.2ZM496.1 162.1 500.4 162.7 502.1 163.5 503.4 164.7 504.2 166.2 504.3 167.7 503.6 169.2 502.6 170.2 499.6 171.6 496.1 171.9 493.1 171.2 490.6 169.4 489.7 167.2 489.9 165.7 490.6 164.7 492.6 163.1Z" fill="#bfff00"/>
<path d="M485.1 36.5 486.6 36.4 487.6 37 488.8 39.2 488.6 41.7 487.6 43 486.6 43.5 485.6 43.6 484.6 43.2 483.7 42.2 483.1 40.7 483.4 38.2 484.1 37.1ZM503.1 48.6 506.9 49.2 510.3 51.2 513.1 54.6 514.6 58.7 514.8 62.7 513.7 66.7 511.2 69.7 508.1 71.2 506.1 71.4 504.1 71.2 502.1 70.4 500.1 69.2 497.1 65.7 495.5 61.7 495.2 57.2 495.6 55.2 496.6 52.9 497.9 51.2 499.6 49.8ZM471.1 53.1 474.6 52.9 478.1 54.1 481.6 56.4 484.6 59.7 486.5 63.2 487.2 66.7 486.6 69.9 484.7 72.2 483.1 72.9 481.1 73.2 477.1 72.4 473 70.2 469.6 66.6 467.3 62.2 466.9 58.2 467.2 56.7 468.1 55 469.6 53.7ZM527.6 53.1 528.6 52.9 529.6 53.2 530.6 54.4 531.1 56.2 531.1 58.2 530.6 59.6 529.6 60.8 528.6 61.2 527.6 60.9 526.7 60.2 525.8 57.7 526.1 55.1ZM453.6 65 456.1 64.8 459.1 66.1 461.3 68.2 463.1 71.1 464 74.7 463.9 77.7 462.6 80.4 460.6 81.9 458.1 82.2 455.1 81.1 452.6 78.8 450.8 75.7 450 72.2 450.2 69.2 451.3 66.7ZM423.1 65.6 426.6 65.4 430.1 66.5 432.8 68.7 434.5 71.7 434.7 75.2 433.7 78.2 431.6 80.6 428.6 82.2 424.9 82.7 421.1 81.7 418.2 79.7 416.5 76.7 416.2 73.2 417.4 69.7 419.8 67.2ZM521.6 82.6 527.1 82.7 530.1 83.5 532.2 84.7 533.9 86.2 534.9 88.2 534.8 90.2 534.1 91.7 532.6 93.1 530.8 94.2 528.1 95.1 525.6 95.5 520.1 95.2 517.6 94.3 515.5 93.2 514 91.7 513.2 90.2 513.1 88.2 513.8 86.7 515.1 85.2 516.6 84.1 519 83.2ZM410.6 83.6 412.1 83.2 413.8 83.7 415.1 85 415.8 86.7 415.9 89.2 415.3 91.2 414.1 92.8 412.6 93.6 411.1 93.5 410.1 92.9 409 91.7 408.3 89.7 408.2 87.7 408.5 86.2 409.4 84.7ZM453.1 92.6 455.6 92.7 458.3 94.2 460.3 96.7 461.1 99.7 460.9 102.7 459.5 105.7 457.2 107.7 454.6 108.4 452 108.2 449.4 106.7 447.6 104.2 446.8 101.2 447.1 98.2 448.3 95.7 450.3 93.7ZM540.6 97.1 543.6 96.7 547.1 97.7 550.3 100.2 551.7 103.2 551.7 106.7 550.3 110.7 547.7 113.7 544.6 115.2 541.6 115.2 538.6 113.8 536.6 111.6 535.2 108.2 535.1 104.7 536.1 101.3 538.1 98.7ZM485.1 101.6 486.6 101.4 487.6 102.4 488.6 105.1 488.9 107.7 488.6 110.6 488.1 112.7 487.1 114.2 485.6 114.9 484.7 114.2 484.1 113.1 483.1 108.7 483.6 104.3ZM482.6 115.6 484.1 115.7 484.8 116.2 485.4 117.7 485.4 119.2 485.1 120.2 484.1 121.4 483.1 121.9 481.6 122.1 479.6 120.9 479.1 120 479 118.7 479.2 117.7 480.1 116.6ZM466.6 121.6 468.1 121.2 470.1 121.4 473.6 123.3 476.9 127.2 479.2 132.2 480.2 137.7 479.9 143.2 479.1 145.5 478.1 147.2 476.6 148.8 475.1 149.5 473.6 149.8 471.6 149.5 468.1 147.5 465.1 143.8 462.8 138.7 461.7 132.7 461.9 127.7 463.6 124 465.1 122.4ZM513.1 123.5 515.1 123.3 516.6 123.4 518.6 124.3 520.1 125.4 522.6 128.8 524 133.7 523.8 138.7 522.1 143.2 520.6 145.1 519.1 146.4 517.6 147.2 515.6 147.7 513.6 147.6 512.1 147.1 509.1 144.8 507.1 141.5 506 137.2 506.2 132.7 507.6 128.4 510.1 125.2Z" fill="#ffd800"/>
<path d="M502.1 50.6 505.6 50.5 508.6 51.8 511.1 54.2 512.8 57.7 513.4 61.7 512.6 65.2 510.6 68 508.1 69.4 505.1 69.6 501.6 68.3 498.8 65.7 497.1 62.2 496.6 58.2 497.5 54.7 499.3 52.2ZM473.1 57 475.1 56.8 477.6 57.5 479.6 58.8 481.6 60.9 482.8 63.1 483.2 65.2 482.9 67.2 481.6 68.7 479.6 69.2 477.1 68.8 474.6 67.4 472.4 65.2 471.1 62.7 470.8 60.2 471.5 58.2ZM455.1 68.6 456.6 68.5 458.1 69.1 459.6 70.5 460.5 72.2 461.1 74.2 460.9 76.2 460.1 77.7 459.1 78.3 457.6 78.5 456.1 78 454.6 76.6 453.4 74.7 452.9 72.7 453.1 70.8 454.1 69.2ZM423.6 69 425.6 68.7 427.6 69.1 429.4 70.2 430.6 71.7 431.2 73.7 430.9 75.7 429.6 77.7 428.1 78.7 426.1 79.3 423.6 79 421.6 77.9 420.3 76.2 419.8 74.2 420.1 72.2 421.6 70.2ZM522.6 84.1 527.1 84.4 529.2 85.2 530.7 86.2 531.6 87.2 532.2 88.7 532 90.2 531.4 91.2 528.6 93.1 525.1 93.9 521.1 93.6 517.6 92.1 516.6 91.1 515.8 89.7 515.9 88.2 516.4 87.2 518.8 85.2ZM452.1 94.1 454.6 93.8 457 94.7 458.6 96.2 459.8 98.7 460 101.7 459.1 104.2 457.3 106.2 455.1 107.1 452.6 107.1 450.7 106.2 449.1 104.5 448.1 102.2 448 99.7 448.7 97.2 450.1 95.3ZM541.6 100.5 543.6 100.3 545.6 101.1 547.1 102.7 547.9 104.7 547.9 107.2 547.1 109.2 545.6 110.9 543.6 111.7 541.6 111.5 540.1 110.6 538.9 109.2 538.2 107.2 538.2 105.2 538.8 103.2 540.1 101.4ZM481.1 118.1 482.1 117.7 483.1 118.1 483.3 119.2 483.1 119.7 482.1 120.3 481.1 119.9 480.8 119.2ZM467.6 125.1 470.1 124.8 473.1 126.4 475.6 129.5 477.2 133.2 478 137.7 477.6 141.5 476.1 144.6 474.1 146 471.6 146.1 468.6 144.3 466.2 141.2 464.8 137.7 464 133.7 464.3 129.7 465.6 126.7ZM513.1 125.6 516.1 125.4 519.1 126.9 521.2 129.7 522.4 133.7 522.4 137.7 521 141.7 518.6 144.5 515.6 145.7 513.1 145.4 510.4 143.7 508.6 141 507.5 137.2 507.6 133.7 508.6 130 510.6 127.2Z" fill="#ff8c00"/>
<path d="M502.6 52.6 505.1 52.5 507.6 53.4 509.6 55.2 511.1 58 511.6 60.7 511.1 63.7 509.6 66 507.6 67.3 505.1 67.6 502.6 66.7 500.3 64.7 499 62.2 498.4 59.2 499 56.2 500.6 53.8ZM523.6 86.6 525.6 86.8 527.3 87.7 527.9 88.7 527.5 90.2 526.1 91 524.1 91.4 522.1 91.1 520.6 90.2 520 89.2 520.6 87.8 521.6 87.1ZM452.6 95.5 454.6 95.3 456.1 95.8 457.6 97.2 458.5 99.2 458.7 101.2 458 103.2 456.8 104.7 455.1 105.6 453.1 105.6 451.6 105 450.3 103.7 449.5 102.2 449.3 100.2 449.8 98.2 451.1 96.4ZM513.6 128.1 516.1 128 518.1 129.1 519.7 131.2 520.6 134.2 520.6 137.2 519.5 140.2 517.8 142.1 515.6 143.1 513.6 142.9 511.6 141.7 510.1 139.4 509.4 136.7 509.5 133.7 510.3 131.2 511.6 129.3ZM469.1 130.6 470.1 130.3 471.6 130.8 472.9 132.2 473.9 134.2 474.3 136.2 474.2 138.2 473.6 139.7 472.6 140.5 471.6 140.7 470.1 139.9 469 138.7 468.1 136.8 467.7 133.2 468.2 131.7Z" fill="#ff4800"/>
<path d="M503.6 55.5 505.1 55.4 506.6 56 507.9 57.2 508.7 58.7 509 60.7 508.8 62.2 507.9 63.7 506.6 64.5 505.1 64.6 503.6 64.1 502.1 62.8 501.2 61.2 501 59.2 501.3 57.7 502.1 56.4ZM453.6 97.5 454.6 97.6 455.6 98.1 456.4 99.2 456.7 100.2 456.1 102.4 455.1 103.2 454.1 103.5 453.1 103.3 452.1 102.7 451.3 100.7 451.9 98.7ZM514.1 132 515.1 131.8 516.1 132.2 517.1 133.2 517.7 134.7 517.6 136.6 517.1 137.9 516.1 138.9 515.1 139.2 514.1 139 513.1 138.2 512.3 136.2 512.6 133.7Z" fill="#ff0000"/>
</g>
<circle cx="483.2" cy="94.25" r="76.6" fill="none" stroke="#444" stroke-width="0.7"/>
<line x1="405.1" y1="94.25" x2="561.3" y2="94.25" stroke="#222" stroke-width="0.6"/>
<line x1="483.2" y1="17.65" x2="483.2" y2="170.85" stroke="#222" stroke-width="0.6"/>
<text x="483.2" y="11.1" font-family='"Liberation Serif", serif' font-size="11" font-weight="bold" fill="#000" text-anchor="middle" >ND</text>
<text x="562.3" y="97" font-family='"Liberation Serif", serif' font-size="11" font-weight="bold" fill="#000" text-anchor="start" >TD</text>
<rect x="0" y="0" width="59.3" height="35.4" fill="#fff"/>
<text x="17" y="29" font-family='"Liberation Serif", serif' font-size="28" font-weight="bold" fill="#000" text-anchor="start" >(a)</text>
<text x="100.05" y="187.5" font-family='"Liberation Serif", serif' font-size="24.5" font-weight="bold" fill="#000" text-anchor="middle" >{111}</text>
<text x="291.45" y="187.5" font-family='"Liberation Serif", serif' font-size="24.5" font-weight="bold" fill="#000" text-anchor="middle" >{110}</text>
<text x="482.7" y="187.5" font-family='"Liberation Serif", serif' font-size="24.5" font-weight="bold" fill="#000" text-anchor="middle" >{100}</text>
<g clip-path="url(#tr0)">
<rect x="34.8" y="230" width="134" height="121.4" fill="#0000ff"/>
<path d="M153.8 243.5 161.8 243.2 169.3 243.6 169.3 306.4 158.8 306.8 148.3 305.9 138.3 303.8 129.3 300.6 121.7 296.5 115.3 291.4 112.6 288.5 110.6 285.5 109.1 282.5 108.2 279.5 107.7 276.5 107.7 273 108.3 270 109.3 267 110.9 264 113.1 261 118.3 255.9 125.8 251.1 134.2 247.5 143.8 244.9ZM83.3 295 87.8 294.6 91.7 295 94.8 296 97.9 298 100 300.5 101.7 304 102.4 308 102.3 312 101.6 315.5 100.4 319.5 98.6 323.5 96.3 327.5 90.8 334.6 80.2 345 78.2 348 76.4 352 34.3 352.2 34.3 316.2 41.3 315 50.3 314.4 53.3 313.7 56.3 311.8 64.3 304.5 69.8 300.5 76.6 297ZM123.8 324 128.8 323.6 133.8 324.7 138.3 326.9 142.3 330.2 145.8 334.7 148.4 340 150.1 346 150.6 352 104.4 352 104.8 347 105.9 342 107.7 337.5 110 333.5 112.9 330 116.3 327.2 119.8 325.2Z" fill="#00896a"/>
<path d="M152.3 247.5 160.8 247 169.3 247.4 169.3 302.6 159.8 303 150.8 302.3 142.3 300.7 134.2 298 127.3 294.5 121.3 290 117.1 285 114.8 280 114.2 277.5 114 274.5 114.4 271.5 115.1 269 117.8 264 122.4 259 128.3 254.9 135.4 251.5 143.6 249ZM83.3 299 86.8 298.9 90.3 299.5 93.3 301 95.3 302.7 97 305.5 97.9 308.5 98.1 312 97.7 315.5 95.8 321.5 92.3 327.7 87.1 334 76.7 343.5 74.7 346.5 72.5 352 34.3 352.1 34.3 319.6 40.8 318.4 51.3 318.1 54.3 317.4 57.3 315.5 64.8 308.2 70.4 304 76.8 300.7ZM123.8 328.4 128.3 328 132.3 328.7 136.3 330.6 139.9 333.5 143 337.5 145.2 342 146.6 347 147 352 108 352 108.3 348 109.1 344 110.4 340.5 112.3 337 114.6 334 117.4 331.5 120.3 329.7Z" fill="#1cff00"/>
<path d="M157.8 251.5 163.8 251.5 169.3 251.9 169.3 298.1 161.3 298.6 153.3 298.1 145.8 296.8 138.7 294.5 132.7 291.5 127.4 287.5 123.7 283 121.8 278.5 121.4 276 121.5 273.5 122.7 269 125.5 264.5 129.8 260.5 135.4 257 142.3 254.2 149.8 252.4ZM79.8 304.4 83.3 304.1 86.3 304.4 88.8 305.5 90.7 307 92 309 92.8 311.8 92.9 315 92.4 318 89.9 324 86 329.5 82.3 333.2 74.2 339.5 71.9 342 70.3 345 68.1 352 34.3 352.1 34.3 323.4 41.8 322.2 52.8 322.4 56.3 321.8 58.9 320 65.3 313 69.3 309.5 74.3 306.4ZM126.3 333.5 129.3 333.5 132.3 334.4 135.3 336.1 137.8 338.4 139.8 341.2 141.3 344.5 142.3 348 142.6 352 112.4 352 112.7 348.5 113.3 345.5 114.5 342.5 116.3 339.5 118.3 337.3 120.8 335.3 123.3 334.1Z" fill="#bfff00"/>
<path d="M157.3 257 163.3 256.9 169.3 257.5 169.3 292.5 163.3 293.1 156.8 293 150.8 292.1 145.1 290.5 140.3 288.3 136.1 285.5 132.9 282 131.1 278.5 130.5 274.5 131.3 271 133.3 267.5 136.3 264.4 140.6 261.5 145.3 259.4 150.8 257.9ZM77.3 312 79.3 311.7 81.3 311.8 82.8 312.4 84.2 313.5 85 315 85.3 316.5 84.8 320.5 82.4 325 78.8 328.9 74.8 331.5 68.1 334.5 66.4 336 65.4 338.5 64.3 347 63 352 34.2 352 34.3 327.7 39.3 326.8 44.3 326.6 48.8 327.1 57.3 328.9 59.3 329 60.8 328.6 62.6 327 66.4 320.5 69.3 316.9 73.3 313.7ZM125.8 341.5 129.3 341.5 131.3 342.3 132.8 343.5 134.3 345.3 135.3 347.2 136 349.5 136.2 352 118.8 352 119.3 348.4 120.8 345.1 122.8 343Z" fill="#ffd800"/>
<path d="M158.8 265 164.3 265.1 169.3 266.2 169.3 283.8 165.8 284.7 162.3 285.1 158.3 285 154.8 284.4 151.8 283.5 148.8 282 146.3 280.1 144.8 278 144.1 276 144.2 273.5 145.1 271.5 146.8 269.5 148.8 268 151.8 266.5 155.2 265.5ZM36.8 332.5 41.8 332.1 46.8 332.7 50.8 334.2 54.3 336.8 56.6 340 57.7 343.5 57.8 347.5 56.8 352 34.3 352 34.3 333.1Z" fill="#ff8c00"/>
<path d="M35.8 340.4 38.8 340.1 41.8 340.4 44.3 341.3 46.3 342.7 47.7 344.5 48.5 347 48.5 349.5 47.9 352 34.3 352 34.3 340.9Z" fill="#ff4800"/>
</g>
<path d="M36.80 349.40 L164.80 349.40 A437.02 437.02 0 0 0 149.91 236.29 Z" fill="none" stroke="#444" stroke-width="0.6"/>
<g clip-path="url(#tr1)">
<rect x="226.4" y="230" width="134" height="121.4" fill="#0000ff"/>
<path d="M225.9 229.4 360.9 229.4 360.9 267.2 356.9 266.4 352.9 266.5 348.9 267.3 345.4 268.8 342.4 270.9 340.2 273.5 338.7 276.5 338.1 280 338.7 283.5 340.2 286.5 342.4 289.1 345.4 291.2 348.9 292.7 352.9 293.5 356.9 293.6 360.9 292.8 361 352 346.9 352 346.6 347.5 345.7 343.5 344.3 340 342.2 336.5 339.9 333.8 336.9 331.6 333.9 330.4 330.9 330.1 327.9 330.5 324.9 331.8 321.9 334 319.8 336.5 317.9 339.6 316.3 343.5 315.4 347.5 315.1 352 264.4 352 269 348 273.3 343 276.5 338 278.9 332.4 280.4 326.5 281 320.5 280.6 314.5 279.2 308.5 275.9 301 271.4 294.6 265.6 289 258.9 284.5 250.9 281 242.9 279.1 234.4 278.5 225.9 279.3Z" fill="#00896a"/>
<path d="M225.9 229.5 360.9 229.5 360.9 259.5 355.4 259 349.4 259.5 343.9 261 338.9 263.5 334.6 267 331.5 271 329.6 275.5 329 280 329.6 284.5 331.5 289 334.6 293 338.9 296.5 343.9 299 349.4 300.5 355.4 301 360.9 300.5 360.9 352 353.5 352 352.9 344.9 351.1 338 348.2 332 344.4 327.1 341.4 324.5 337.9 322.5 334.4 321.4 330.9 321 326.4 321.7 322.4 323.4 318.4 326.3 314.9 330.3 312.2 335 310.1 340.5 308.9 346 308.5 352 268.1 352 272.7 347.5 276.6 342.5 279.7 337 281.9 331.2 283.2 325 283.5 319 282.9 313 281.3 307 277.9 299.6 273.2 293 266.9 287 259.9 282.4 251.9 278.9 243.4 276.9 234.4 276.2 225.9 277Z" fill="#1cff00"/>
<path d="M326.9 229.5 357.2 229.5 358.1 233 358.3 237 357.7 241 356.4 244.5 354.4 247.5 352.4 249.7 349.9 251.5 346.9 252.9 343.9 253.6 340.9 253.7 337.9 253.2 334.9 252 332.4 250.3 330 248 328.2 245.5 326.8 242.5 326 239.5 325.6 236 326 232.5ZM300.4 262.4 305.9 262.1 308.9 262.7 311.4 263.7 313.9 265.2 316.4 267.4 318.4 269.8 320.1 272.5 322.3 278 322.6 283 323.8 288 323.3 295 321.5 302.5 316.2 315.5 314.6 321.5 309.9 327.6 306.4 335 304.1 343.5 303.4 352 271.6 352 276.9 346 281.3 339 284.1 332 285.6 324.5 285.7 316.5 284.2 308.5 281.3 301 276.7 293.5 278.4 286 280.1 281.5 282.1 277.5 284.7 273.5 287.4 270.2 290.4 267.4 293.4 265.3 296.9 263.5Z" fill="#bfff00"/>
<path d="M299.9 274.9 302.9 274.6 305.9 275.2 308.4 276.5 310.5 278.5 312.4 281.4 313.6 284.5 314.3 288.5 314.3 292.5 313.7 296.5 312.5 300.5 310.9 304 308.4 307.7 305.9 310.3 302.9 312.4 299.9 313.6 296.9 313.9 294.4 313.4 292.4 312.4 290.4 310.8 288.4 308.2 287.1 305.5 286.1 302.5 285.6 299 285.7 295.5 286.2 292 287.1 288.5 288.6 285 290.4 282 292.5 279.5 294.9 277.4 297.4 275.8ZM288.9 329.5 291.4 329.4 293.4 330.5 295.4 332.7 296.9 335.5 298.4 340 299.4 345 299.2 352 280.2 352 280.9 344.5 284.5 337.5 286.9 330.6Z" fill="#ffd800"/>
</g>
<path d="M228.40 349.40 L356.40 349.40 A437.02 437.02 0 0 0 341.51 236.29 Z" fill="none" stroke="#444" stroke-width="0.6"/>
<g clip-path="url(#tr2)">
<rect x="417.9" y="230" width="134" height="121.4" fill="#0000ff"/>
<path d="M542.4 271.5 547.4 271.2 552.4 271.4 552.4 352.1 507 352 506.9 347.5 506 343.5 504.6 341 502.9 340.2 501.4 341 499.9 343.6 499.1 347.5 499 352 446.5 352 446.6 346.5 448.2 341 451.2 336 455.4 331.6 460.9 328 467.4 325.5 474.4 324.4 486.9 324 489.4 323.4 491.1 322.5 492.9 320.8 494.4 318 498.5 305.5 501.6 298.5 505.7 292 510.5 286.5 517.4 280.7 524.9 276.4 533.4 273.2Z" fill="#00896a"/>
<path d="M541.4 275.4 546.9 275 552.4 275.2 552.5 352 511.6 352 508.4 349 506.9 342.5 505.4 339.5 504.4 338.5 502.9 338 501.9 338.3 500.4 339.5 499.1 336 498.7 329.5 499.4 319.5 500.8 312 502.9 305.2 505.6 299.5 508.9 294.3 513 289.5 517.9 285.2 523.4 281.5 528.9 278.8 534.9 276.7ZM472.4 329.5 477.9 329.8 482.9 331.1 488 333.5 491.9 336.5 494.2 339.5 495.2 342.5 495.4 347 494.8 352 451.1 352 451.3 348 452.4 343.9 454.3 340 456.9 336.6 459.9 334 463.9 331.6 467.9 330.2Z" fill="#1cff00"/>
<path d="M542.4 279.5 547.4 279.2 552.4 279.4 552.5 352 518.5 352 513.9 347.6 510.3 343 507.4 338 505.4 332.5 504.3 326.5 504.1 320.5 504.8 314.5 506.3 308.5 508.6 303 511.5 298 515.4 293.2 519.9 289 524.9 285.5 530.4 282.7 536.4 280.7ZM469.9 336 473.4 335.6 476.9 336.1 480.4 337.4 483.4 339.4 485.7 342 487.3 345 488.2 348.5 488.3 352 457.1 352 457.3 349 457.9 346.5 459 344 460.4 341.8 462.4 339.7 464.7 338 467.4 336.7Z" fill="#bfff00"/>
<path d="M543.9 284 548.4 283.8 552.4 284 552.4 352 526.4 352 521.7 348.5 517.4 344.1 514.1 339.5 511.6 334.5 509.9 329 509.2 323.5 509.3 317.5 510.3 312 512.2 306.5 514.9 301.5 518.3 297 522.4 293 527.3 289.5 532.4 286.9 537.9 285Z" fill="#ffd800"/>
<path d="M542.4 289.5 547.4 289 552.4 289.3 552.4 352 539.9 352 533.9 350 528.4 346.9 523.4 342.6 519.4 337.5 516.6 332 515 326 514.7 319.5 515.6 313.5 517.8 307.5 520.9 302.4 525.4 297.5 530.4 293.9 536.4 291Z" fill="#ff8c00"/>
<path d="M545.4 295.5 548.9 295.4 552.4 295.7 552.4 346.3 550.9 346.5 545.4 346.5 540.4 345.6 535.4 343.6 531.3 341 527.4 337.3 524.4 333.1 522.4 328.5 521.4 323.5 521.4 318.5 522.4 313.5 524.4 309 527.4 304.7 531.3 301 535.4 298.4 540.4 296.4Z" fill="#ff4800"/>
<path d="M546.4 304 549.4 304 552.4 304.4 552.4 337.6 549.9 338 546.4 338 542.9 337.4 539.4 336 536.4 334 533.9 331.5 532.2 329 531 326 530.2 322.5 530.3 319 531 316 532.4 312.7 534.4 310 536.9 307.6 539.9 305.8 542.9 304.6Z" fill="#ff0000"/>
</g>
<path d="M419.90 349.40 L547.90 349.40 A437.02 437.02 0 0 0 533.01 236.29 Z" fill="none" stroke="#444" stroke-width="0.6"/>
<g clip-path="url(#od0)">
<rect x="92.8" y="388.8" width="161.4" height="153" fill="#0000ff"/>
<path d="M98.3 388.3 149.8 388.3 150.8 388.9 152.3 389.1 154.9 388.3 176.4 388.3 180.1 390.3 183.3 392.6 186.3 395.3 188.8 398.3 190.6 401.3 191.8 404.3 192.3 407.3 192 410.3 191.4 412.3 190.1 414.3 188.5 415.8 186.3 417.1 183.8 418 180.8 418.4 174.8 418 169.8 416.6 164.8 414.2 159.4 410.3 151.8 402.8 149.3 401.6 147.3 401.8 140.8 409.8 131.3 416.9 129.7 419.3 128.9 421.8 129.1 423.3 130.3 424.9 135.5 428.3 141.1 432.8 150.2 437.3 152 438.8 152.8 440.3 152.4 441.8 150.3 442.9 146.8 443.1 142.1 442.3 128.8 438.3 121.3 434.4 114.4 431.8 111.3 429.3 109.8 427 108.9 424.3 108.5 416.3 107.9 413.8 101.5 405.3 98.7 399.3 98 396.3 97.6 392.8 97.9 388.3ZM180.3 431.7 183.3 431.5 186.3 431.9 189.3 432.8 191.9 434.3 194.2 436.3 196.1 438.8 197.4 441.3 198.3 444.3 198.5 447.3 198.1 450.3 197.2 453.3 195.7 455.8 193.8 458.1 191.3 460.1 188.8 461.4 185.8 462.2 182.8 462.5 179.8 462.2 176.8 461.2 174.3 459.8 171.9 457.8 169.9 455.3 168.6 452.8 167.8 449.8 167.5 446.8 167.8 443.8 168.8 440.8 170.3 438.1 172.3 435.8 174.8 433.9 177.3 432.6ZM233.8 440.2 237.3 440 240.8 441.2 243.8 443.6 246.4 447.3 247.7 450.3 248.5 453.3 248.8 459.8 248 464.8 245 472.3 244.7 474.3 245.5 475.8 247.8 477.7 251.3 479.7 254.8 481.1 254.8 537.5 249.3 537.4 244.4 536.3 239.8 534.5 235.4 531.8 230.7 527.3 227.1 521.8 225.2 516.8 223.8 508 222.8 506 220.3 504.9 212.8 503.9 207.8 502.9 200.3 500.3 196.3 497.9 193.4 495.3 191.5 492.8 190.3 489.8 190.3 486.3 191.7 482.8 194.8 479.3 198.8 476.5 203.4 474.3 208.3 472.7 213.3 471.8 221.8 471.1 223.9 470.3 224.5 469.3 224.6 468.3 223.4 461.8 223.1 457.3 223.4 453.8 224.3 450.4 225.9 446.8 228.3 443.5 230.8 441.5ZM102.3 450.3 106.8 450.2 110.8 451 114.8 452.7 118.3 455.1 121.3 458.1 123.9 461.8 125.8 466 127.1 470.8 127.5 475.3 127.3 479.8 126.4 484.3 124.8 488.3 123.2 491.3 121 494.3 114.1 500.8 111.8 503.7 104.8 502.6 99.8 501.4 95.8 499.7 92.3 497.4 92.3 454.6 96.9 451.8ZM169.8 504.2 175.8 503.9 182.3 504.2 188.1 505.3 192.8 506.9 196.8 509.1 199.5 511.8 200.7 514.8 200.2 517.8 198.9 519.8 197.4 521.3 192.8 524 186.3 526.1 178.8 527 170.8 526.9 163.8 525.6 157.7 523.3 153.5 520.3 151.8 517.8 151.3 515.3 152 512.8 153.8 510.4 156.6 508.3 160.3 506.5 164.8 505.1ZM112.3 504.4 121.3 505.7 129.3 505.3 130.8 505.7 131.5 506.3 132 507.8 131.5 513.3 131.9 516.3 139.1 532.3 140.6 537.3 141.5 542.3 98.5 542.3 99.8 535.8 102.3 529.5 104.8 525.3 110.4 518.3 111.9 515.8 112.4 512.8 111.7 506.3Z" fill="#00896a"/>
<path d="M101.3 388.3 145.4 388.3 148.1 394.8 145.3 397.8 141.9 403.8 138.8 407.6 135.8 410.1 128.5 414.8 123.3 421.3 121.3 423.3 119.8 424.1 118.3 424.3 116.8 423.8 115.3 422.4 114.3 420.3 113.2 415.3 112.3 413.3 105.5 405.8 102.7 401.3 101.4 397.8 100.7 394.3 100.7 389.8 100.9 388.3ZM165.3 389.3 170.3 389.7 175.2 391.3 179.8 394 183.8 397.6 186.6 401.8 187.7 405.8 187.3 409.3 186.5 410.8 185.3 412.3 181.8 414.2 177.8 414.8 173.3 414.2 168.3 412.5 164.8 410.5 161.8 408.1 155.3 400.6 150.3 395.8 150.4 395.3 150.8 395.2 155.3 394.1 160.9 390.3ZM180.8 435.2 185.3 435.2 187.8 436 189.8 437.1 193 440.3 194 442.3 194.8 444.8 194.8 449.3 194 451.8 192.9 453.8 189.8 456.9 187.8 458 185.3 458.8 180.8 458.8 178.3 458 176.3 457 173.1 453.8 172 451.8 171.2 449.3 171.2 444.8 172 442.3 173 440.3 176.3 437 178.3 436ZM234.3 444.2 236.3 444 238.3 444.4 240.3 445.4 242.3 447.1 243.8 449.2 245 451.8 246 457.3 245.4 462.8 243.3 467.7 240.8 470.6 238.3 472.5 235.6 473.8 234.9 474.3 235.2 474.8 239.1 477.8 246 482.3 249.3 483.5 254.8 484.5 254.8 534.9 248.8 534.7 242.8 533 237.8 530.3 233.3 526.3 230.3 522.2 228.1 517.3 227.1 512.3 226.8 504.3 225.8 502.3 223.3 501.4 211.8 500.3 205.8 498.4 202.7 496.8 200.1 494.8 198 492.3 196.9 489.8 196.8 486.3 198.4 482.8 201.8 479.3 206.3 476.6 209.8 475.4 213.8 474.7 228.8 474.8 232.5 474.3 233.2 473.8 229.8 469.6 227.6 465.8 226.4 461.8 226 457.3 226.7 452.8 228.5 448.8 231.1 445.8ZM101.8 453.3 105.8 453 109.8 453.7 113.3 455.1 116.8 457.4 119.8 460.5 122.2 464.3 123.8 468.3 124.8 472.8 125 477.3 124.4 481.8 122.9 486.3 120.8 490.1 118.2 493.3 114.8 496.1 110.8 498.2 107.3 499.1 103.3 499 99.3 498.1 95.6 496.3 92.3 493.8 92.3 458.2 96.8 455ZM171.8 507.7 176.3 507.5 180.6 507.8 184.8 508.7 187.9 509.8 190.5 511.3 192.3 513.3 193 515.3 192.6 517.3 190.3 519.8 187.3 521.5 183 522.8 177.8 523.5 172.3 523.3 167.3 522.4 163.3 520.8 160.5 518.8 159.4 517.3 159 515.3 159.4 513.8 160.8 511.9 162.8 510.5 165.3 509.3ZM121.3 511.7 122.8 511.7 123.8 512.2 124.9 513.8 124.8 516 122.8 518.8 123 519.8 129.8 524.6 133.8 529.1 137 535.3 138.8 542.3 101.2 542.3 102.8 535.8 105.8 529.8 108.3 526.6 111.3 523.8 113.8 522.1 119.2 519.3 119.6 518.3 118.9 515.8 119 513.8 119.8 512.4Z" fill="#1cff00"/>
<path d="M104.8 388.3 141.6 388.3 142.1 391.8 141.8 394.8 140.8 398.3 139.4 401.3 137.6 403.8 135.1 406.3 131.8 408.5 126.8 410.8 122.8 412.2 120.3 412.3 117.3 411 112.3 407.6 109.2 404.8 106.9 401.8 105.2 398.3 104.3 394.8 104.1 390.8 104.4 388.3ZM167.3 394.7 169.8 394.7 172.8 395.4 175.8 396.9 178.3 398.9 180.1 401.3 181 403.8 180.9 405.8 179.8 407.8 178.3 408.8 176.8 409.2 172.8 409.1 168.8 407.5 165.4 404.8 163.2 401.3 163 398.3 164.3 396.1 165.5 395.3ZM181.3 440.3 183.8 440.1 186.3 440.9 188.5 442.8 189.7 445.3 189.9 447.8 189.1 450.3 187.3 452.4 184.8 453.7 181.8 453.8 179.3 452.9 177.3 450.9 176.3 448.8 176.2 445.8 177.1 443.3 178.8 441.5ZM234.3 450.3 236.8 450 238.8 450.9 240.7 453.3 241.6 456.3 241.7 459.3 240.8 462.5 239.1 464.8 236.8 466 234.8 465.9 232.8 464.8 231.3 462.7 230.4 459.8 230.3 456.8 231.1 453.8 232.3 451.8ZM101.8 456.7 105.3 456.4 108.6 456.8 111.8 458 114.8 459.9 117.3 462.4 119.6 465.8 121.1 469.3 121.9 473.3 122 477.3 121.4 481.3 120.3 484.8 118.3 488.3 115.8 491.2 113.3 493.2 110.3 494.7 106.8 495.6 102.8 495.5 98.8 494.3 95.3 492.2 92.3 489.1 92.3 462.9 94.3 460.7 96.7 458.8 99.3 457.5ZM211.3 478.3 214.8 477.8 218.3 478 229.2 480.8 233.8 482.8 238.8 487.1 240.3 487.9 242.8 488 250.8 487.5 254.8 487.8 254.8 532 248.8 531.7 242.8 529.8 237.8 526.6 233.8 522.2 231.3 517.3 230.1 512.3 230.1 507.3 231.6 498.3 231.5 497.3 230.8 496.3 228.3 495.9 218.3 497 213.3 496.8 208.2 495.3 205.8 493.8 204.3 492.3 203.1 490.3 202.5 488.3 202.5 486.3 203.2 484.3 204.4 482.3 206.3 480.6 208.4 479.3ZM116.8 526.3 119.8 525.9 123.2 526.3 126.3 527.5 128.8 529.3 131.3 531.9 133.3 535.1 134.8 538.8 135.6 542.3 104.4 542.3 105.9 536.8 108.8 531.8 112.4 528.3Z" fill="#bfff00"/>
<path d="M109.3 388.3 137.2 388.3 137.7 391.8 137.3 395.3 136.4 397.8 135 400.3 133.3 402.3 130.8 404.2 128.3 405.5 125.3 406.4 122.3 406.6 119.8 406.3 116.8 405.2 114.3 403.7 112.2 401.8 110.3 399.2 109 396.3 108.4 393.3 108.6 389.3 108.8 388.3ZM102.3 460.7 105.3 460.4 107.8 460.7 110.3 461.7 112.8 463.2 114.9 465.3 116.5 467.8 117.6 470.3 118.4 473.3 118.5 476.8 118.1 479.8 117.2 482.8 115.9 485.3 113.9 487.8 111.8 489.5 109.3 490.8 106.8 491.5 102.3 491.3 99.8 490.4 97.9 489.3 94.5 485.8 92.3 481.4 92.3 470.6 93.2 468.3 94.8 465.7 97.1 463.3 99.4 461.8ZM213.8 481.8 216.3 481.9 218.3 482.5 220.4 483.8 221.7 485.3 222.2 486.8 222.2 488.3 221.4 489.8 219.7 491.3 216.8 492.4 213.3 492.5 210.3 491.4 208.3 489.4 207.7 486.8 208.8 484.3 210.8 482.6ZM249.8 491.3 254.8 491.2 254.8 528.7 250.8 528.7 247.3 528 243.8 526.6 240.8 524.7 238.2 522.3 236 519.3 234.4 515.8 233.6 512.3 233.5 508.8 234.2 504.8 235.5 501.3 237.3 498.3 239.8 495.6 242.8 493.5 246.3 492.1ZM117.8 531.2 119.8 530.9 122.3 531.2 124.3 532 126.4 533.3 128.3 535.2 129.7 537.3 131.6 542.3 108.4 542.3 109.8 538.3 111.8 535.1 114.8 532.4Z" fill="#ffd800"/>
<path d="M115.8 388.3 130.6 388.3 131.3 390.3 131.5 392.3 130.5 395.8 128.3 398.5 125.3 400 122.3 400.3 118.9 399.3 116.5 397.3 114.9 394.3 114.6 390.8 115.3 388.6ZM103.3 466.2 106.8 466.2 109.8 467.7 112.3 470.6 113.6 474.3 113.5 478.3 112.1 481.8 109.8 484.3 108.2 485.3 106.3 485.9 102.8 485.7 99.8 484 97.6 481.3 96.4 477.8 96.5 473.8 97.8 470.4 100.3 467.6ZM251.8 495.3 254.8 495.3 254.8 524.6 254.3 524.7 251.3 524.7 248.3 524 245.4 522.8 243.2 521.3 241.1 519.3 239.4 516.8 238.3 514.3 237.7 511.3 237.8 508.3 238.3 505.8 239.6 502.8 241.3 500.4 243.6 498.3 246.1 496.8 248.8 495.8ZM119.8 538.8 121.3 539 122.8 539.7 124.9 542.3 115.1 542.3 117.1 539.8 118.3 539.1Z" fill="#ff8c00"/>
<path d="M250.8 501.2 254.8 501.1 254.8 518.9 251.3 518.9 247.8 517.5 245.3 515.2 243.8 511.8 243.8 508.3 245 505.3 247.3 502.8Z" fill="#ff4800"/>
</g>
<g clip-path="url(#od1)">
<rect x="357.2" y="389.5" width="161" height="153.8" fill="#0000ff"/>
<path d="M356.7 389 368 389 368.7 389.6 371.6 392.5 373.8 396 375.3 400 375.9 404.5 375.5 409.5 373.6 414.5 371.2 418 366 423.5 364.4 426 363.6 429 362.7 437.1 361.7 441.5 360.2 444.7 359.2 445.7 358.2 446 356.7 445.5ZM439.2 389 519.2 389 519.2 404.5 511.2 405 500.7 404.1 497.7 404.2 496.2 404.8 494.2 406 485.2 413.9 479.2 417.1 475.2 418.4 470.7 419.1 466.2 419.1 462.2 418.6 457.2 417.2 452.6 415 448.2 411.8 444.6 408 441.7 403.5 439.8 398.5 438.7 392.5 438.8 389ZM401.2 398.9 402.7 398.9 404.5 399.5 409.7 404.2 416.7 407 419.7 408.6 423.6 411.5 426.7 415 429.4 419.5 431.2 424.7 431.9 430 431.7 438 432.1 439.5 432.8 440.5 434.2 441.3 436.7 441.6 446.2 440.6 451.7 440.8 455.7 442 457 443 457.7 444 457.5 446 455.4 448.5 451.7 450.6 444.7 453.2 443.5 454 442.7 455 442.5 457.5 443.8 464.5 444.2 469 444.2 473 443.7 477 442.7 480.7 441.2 484 439.2 486.9 436.2 490 435.7 491 437.2 492.5 443.2 495.6 446.8 498 450.1 501 452.7 504.5 455 509 456.5 514 456.9 519 456.5 524 455.6 527.5 454.2 530.9 450.5 536.5 448 539 445.2 541.1 442.2 542.8 439.1 544 424.9 544 420.2 542 416.2 539.2 412.7 535.5 410.1 531.5 408.2 527 407.3 522.5 407.1 517.5 407.8 512.5 409.4 508 411.7 503.8 414.7 500.2 417.9 497.5 423.7 493.7 424.4 492.5 424.7 490.5 424.6 488 424 486 419.8 479 417.4 473 416.2 468 415.1 459 414.2 457.6 412.2 457 408.2 457.5 407.2 458 406.5 459 406.8 461 409.6 470 410.5 477 410.3 481.5 409.7 485.5 408.7 489.5 407.2 493.3 404.2 498.6 400.2 503.3 395.4 507 387.8 511 386.9 512 386.7 513 387.8 516 393.4 525 400.2 531.7 402.6 535 403.4 537 403.9 539.5 403.8 542 403.3 544 379.7 544 378.9 541.5 378.9 538.5 379.5 536 381.4 531.5 381.5 529.5 381.1 528 379.4 525.5 377.7 523.5 376.2 522.5 375.2 522.7 374.7 523.2 370.7 531.2 368.7 534 366.7 536 362.2 539 359.7 540 356.7 540.6 356.7 462.7 358.7 458.5 360.7 455.4 362.7 453.2 365.4 451 372.2 447.2 375.7 446 382.2 444.5 383.6 443.5 383.8 442 382.3 435 382.1 430.5 382.6 425.5 383.9 421 385.6 417.5 387.7 414.5 394.7 407.2 397.9 401 399.6 399.5ZM486.2 425 490.2 424.7 494.2 425.1 498.7 426.4 502.7 428.3 506.7 430.7 510.9 434 516.1 439 519.2 442.7 519.2 517.4 517.7 518.8 516.2 518.7 514.7 517.3 513.2 514.4 511.7 509.4 510 499 509.1 480 508.2 476.6 506.7 475.3 501.2 473.5 496.7 471.4 492.7 468.8 488.6 465.5 484.7 461.4 481.4 457 478.7 452.4 476.7 447.5 475.7 443.5 475.3 439.5 475.6 436 476.7 432.5 478.2 429.9 480.5 427.5 483.2 425.9ZM473.2 479.9 475.7 479.6 478.2 479.8 480.7 480.6 483.1 482 485.2 484 486.7 486.1 487.8 488.5 488.6 491.5 488.8 494.5 488.4 497.5 487.6 500 486.3 502.5 484.7 504.6 482.4 506.5 480.2 507.6 477.7 508.3 475.2 508.4 472.7 508 470.4 507 468.3 505.5 466.7 503.9 465.1 501.5 464 499 463.4 496.5 463.2 494 463.5 491 464.2 488.4 465.4 486 466.8 484 468.7 482.1 470.7 480.9ZM513.7 526.4 516.7 526.2 519.2 527.4 519.3 544 504.9 544 504.4 541.5 504.4 538.5 505 535.5 506 533 507.2 531 509.2 528.8 511.2 527.5Z" fill="#00896a"/>
<path d="M442.2 389 494.7 389 495.5 392.5 495.5 395 494.4 398.5 491.1 403.5 487.2 408 483.2 411.3 479.2 413.6 474.7 415.2 470.2 415.9 465.2 415.9 460.2 414.8 455.7 413 451.7 410.5 448 407 445.2 403 443.2 398.5 442.1 393.5ZM356.7 390.5 359.7 390.8 362.2 391.5 364.7 392.9 366.7 394.5 368.3 396.5 369.7 399 370.6 401.5 371 404.5 370.9 407 370.2 409.8 367.7 414.5 365.2 417.1 361.2 420.5 359.2 421.8 357.7 422.1 356.7 421.9ZM402.2 405.5 403.2 405.5 407.2 407.2 413.7 409.1 417.9 411 422.7 414.9 426.3 420 428.1 424.5 429 429.5 428.9 433.5 427.6 441.5 427.7 443.5 428.2 444.3 429.2 445 435.2 447.2 436.6 448 437.4 449 438.1 454 440.4 462 441.2 466.9 441.2 472.5 440.1 477.5 438.4 481 436.2 483.4 434.2 484.5 428.7 485.9 422.8 478 420.2 472.1 418.8 465.5 418.9 455.5 418.2 453.3 416.2 452.8 409.7 453.9 402.7 454.2 401.3 454.5 400.9 455 401.1 456.5 404.7 463.3 406.4 467.5 407.4 471.5 407.9 475.5 407.9 480.5 407.3 485 406 489.5 404.2 493.6 401.8 497.5 399.2 500.5 395.7 503.5 392.2 505.6 387.7 507.4 380.7 509.1 377.7 509.4 373.7 509 372.7 509.5 372.4 510.5 372.5 516.5 372 521 370.8 525.5 369.2 529 366.7 532.5 363.7 535.2 360.2 537 356.7 537.9 356.7 497.8 359.4 497.5 360.1 496.5 356.7 485.2 356.7 471 357.8 467 359.7 462.5 362.5 458 365.8 454.5 369.7 451.6 373.2 449.8 377.2 448.5 381.2 448 387.7 447.9 389.2 447.4 389.3 446 386.3 439 385.2 434.1 385.1 429 386 424 387.9 419.5 390.7 415.5 398.1 409 400.7 406.2ZM488.7 428.9 492.7 428.8 496.7 429.5 500.8 431 505.2 433.5 509.2 436.6 513.1 440.5 516.7 445 519.2 449 519.2 509.1 517.7 510.8 516.2 510.8 515.2 509.8 513.7 506.5 512.7 502.8 511.3 492 510.9 476.5 510 473 508.2 471.6 502.7 470.3 498.7 468.7 495.2 466.7 491.7 464.1 488.2 460.8 485.1 457 482.6 453 480.7 448.6 479.7 445 479.3 441.5 479.5 438.5 480.4 435.5 481.8 433 483.7 431.1 486.2 429.7ZM473.2 481.4 475.7 481 477.7 481.1 480.2 481.9 482.2 483.1 484.2 484.9 485.7 487 487.3 491.5 487.5 494 487.2 496.9 485.4 501.5 483.8 503.5 482.1 505 480.2 506.1 477.7 506.9 475.7 507 473.2 506.6 471.2 505.8 469.2 504.5 466.3 501 464.7 496.5 464.7 491.6 466.2 487.2 467.7 485 469.2 483.5 471.2 482.2ZM428.2 493.5 431 495.5 436.2 496.3 440.2 497.6 443.2 499.2 446.2 501.4 449.1 504.5 451.3 508 453 512 453.8 516 454 520.5 453.2 525 451.7 529.2 449.5 533 446.3 536.5 442.9 539 438.7 540.9 434.7 541.8 430.2 541.9 426.2 541.2 422.2 539.6 418.7 537.3 415.7 534.4 412.9 530.5 411.2 526.5 410.2 522 410 518 410.5 514 411.8 510 413.7 506.2 417.7 501.5 420.7 499.3 425.5 496.5ZM514.2 530 516.7 530.1 519.2 531.4 519.2 544 507.7 544 507 539.5 507.4 537 508.1 535 509.2 533.1 510.7 531.6 512.2 530.6ZM388.7 530.3 391.2 530.2 393.7 531 396.7 532.8 398.7 534.8 400 537 400.5 539.5 400.3 542 399.4 544 383.2 544 382.4 542.5 382 540.5 382.1 538.5 382.7 536.5 383.9 534.5 385.7 532.3Z" fill="#1cff00"/>
<path d="M446.2 389 490.3 389 490.4 393.5 489.5 397.5 487.7 401.2 484.9 405 481.7 407.8 478.2 410 474.2 411.5 470.2 412.3 465.7 412.2 461.2 411.3 457.2 409.7 453.7 407.3 450.7 404.4 448.4 401 446.7 397 445.8 392 445.9 389ZM356.7 399 358.7 399.3 360.8 400.5 362.2 402.5 362.8 405 362.3 407.5 361.2 409.4 359.2 410.9 357.2 411.4 356.7 411.4ZM405.2 411.5 409.2 411.7 412.7 412.5 416 414 418.8 416 421.2 418.5 423.5 422 424.8 425.5 425.5 429 425.5 433 424.7 437 423.2 440.9 421.2 444 418.7 446.4 415.7 448.3 412.2 449.7 408.7 450.4 404.7 450.3 401.2 449.5 398.2 448.2 395.2 446.1 392.7 443.5 390.7 440.4 389.2 436.6 388.5 433 388.5 429 389.2 425.5 390.5 422 392.7 418.6 395.2 416 398.7 413.5 402.2 412ZM491.2 433.9 494.7 433.8 498 434.5 501.7 436 505.2 438.3 508.3 441 511.3 444.5 513.9 448.5 516.1 453 517.7 458.5 519.2 468.8 519.2 496 518.2 498.6 517.2 499.6 516.2 499.2 515.2 497.3 514 492 513.5 484 513.9 471.5 513.6 469 513 467.5 512.2 466.6 511.2 466.2 505.7 466.2 502.7 465.7 499.7 464.6 496.7 463 493.2 460.4 490.2 457.4 487.7 454 485.7 450 484.3 444.5 484.3 442 484.8 439.5 485.7 437.5 487.2 435.8 489.2 434.6ZM379.2 451.5 384.2 451.4 388.7 452.4 392.7 454.2 396.4 457 399.7 460.8 402.4 465.5 404.2 470.5 405.1 476 404.9 481.5 403.9 486.5 402 491.5 399.2 495.9 395.7 499.5 391.7 502.2 387.2 504 382.7 504.8 378.2 504.6 374.2 503.5 370.2 501.4 366.7 498.5 363.7 494.6 361.3 490 359.6 485 358.9 480 359 475 359.9 470 361.7 465.2 364.2 461 367.2 457.5 371 454.5 375.2 452.5ZM428.2 453.5 430.7 454 433.5 456.5 435.7 460.4 437 465 437.2 469.5 436.5 473.5 434.7 476.5 433.7 477.4 432.2 478 430.7 478 429.2 477.5 426.7 475.5 424.3 471.5 423 467 422.8 462 423.7 457.9 425.7 454.7 426.7 454ZM474.2 483.4 476.2 483.2 478.2 483.5 481.7 485.4 484.2 488.5 485.4 492.5 485.2 496.8 483.6 500.5 480.7 503.4 477.2 504.7 473.7 504.5 470.2 502.6 467.8 499.5 466.6 496 466.7 491.6 468.2 487.8 470.7 485ZM427.7 500 431.2 499.5 435.2 499.8 438.7 500.9 441.8 502.5 444.7 504.8 447.2 507.8 449.2 511.5 450.2 515 450.6 518.5 450.3 522.5 449.3 526 447.6 529.5 445.4 532.5 442.6 535 439.2 536.9 435.7 538 432.2 538.4 428.2 538 424.7 536.9 421.7 535.2 419.1 533 416.7 530 414.8 526.5 413.8 523 413.4 519.5 413.7 515.5 414.7 512 416.4 508.5 418.6 505.5 421.2 503.2 424.2 501.3ZM356.7 501.2 359.2 501.7 361.7 502.8 364 504.5 365.8 506.5 367.4 509 368.6 512 369.2 515 369.4 518 369.2 521 368.4 524 367.2 526.9 365.7 529.3 363.7 531.5 361.7 533 359.2 534.2 356.7 534.8ZM513.7 535.5 515.2 535.2 516.4 535.5 517.6 536.5 518.5 538 518.8 539.5 518.7 541.3 518.2 542.7 517.1 544 512.9 544 511.5 542 511.2 540 511.5 538 512.4 536.5ZM389.7 536.3 391.2 536.1 392.7 536.3 394.7 538 395.2 539.3 395.2 540.5 394.4 542 393.2 543 391.7 543.4 390.2 543.3 388.7 542.7 387.6 541.5 387.1 540 387.4 538.5 388.2 537.3Z" fill="#bfff00"/>
<path d="M450.7 389 485.5 389 485.6 393 484.7 396.5 483.3 399.5 481.2 402.3 478.7 404.5 475.7 406.2 472.7 407.3 469.2 407.9 465.7 407.8 462.2 407 459.2 405.7 456.7 404 454.2 401.5 452.2 398.5 451 395.5 450.4 392ZM405.7 416 408.7 416 411.2 416.6 413.7 417.7 416.2 419.4 418.2 421.5 419.8 424 420.7 426.5 421.3 429.5 421.3 432.5 420.8 435.5 419.7 438.1 418.2 440.5 416.2 442.6 413.7 444.3 411.2 445.4 408.2 446 405.2 445.9 402.7 445.4 400.2 444.3 397.7 442.5 395.8 440.5 394.2 438 393.3 435.5 392.7 432.5 392.7 429.5 393.3 426.5 394.2 424 395.8 421.5 397.7 419.5 400.2 417.7 402.7 416.6ZM495.2 441.4 497.7 441.4 500.8 442.5 503.7 444.5 506.3 447.5 507.9 450.5 508.4 453.5 508 456 506.3 458 503.7 458.7 500.2 458 496.7 455.8 493.7 452.5 492 449 491.6 445.5 492.7 442.9 493.8 442ZM380.2 455.5 384.2 455.5 388.1 456.5 391.7 458.3 394.7 460.8 397.4 464 399.6 468 400.9 472 401.6 476.5 401.4 481 400.6 485 399.1 489 396.7 493 393.9 496 390.7 498.3 387.2 499.8 383.2 500.6 379.2 500.4 375.7 499.5 372.2 497.7 369.2 495.2 366.7 492.2 364.6 488.5 363.2 484.4 362.5 480 362.5 475.5 363.2 471.5 364.7 467.4 367 463.5 369.7 460.4 372.8 458 376.2 456.4ZM431.2 504 434.2 504.1 436.7 504.8 439.3 506 441.7 507.9 443.5 510 445 512.5 445.9 515 446.4 518 446.3 521 445.6 524 444.5 526.5 442.8 529 440.7 531 438.2 532.6 435.7 533.6 432.7 534 429.7 533.9 427.2 533.2 424.7 532 422.2 530 420.5 528 419 525.5 418.1 523 417.6 520 417.7 517 418.4 514 419.5 511.5 421.2 509 423.3 507 425.7 505.5 428.2 504.5ZM356.7 505.1 360.3 506.5 363.5 509.5 365.5 513.5 366.1 518 365.4 522.5 363.5 526.5 360.3 529.5 356.7 530.9Z" fill="#ffd800"/>
<path d="M457.2 389 479.1 389 479.2 392.5 477.8 396.5 476.2 398.5 474.7 399.8 470.7 401.6 466.2 401.7 463.7 401.1 461.7 400 458.6 397 457.5 395 456.9 393 456.7 390 456.9 389ZM405.7 422.4 408.7 422.5 411.9 424 414.1 426.5 415.2 429.5 415.1 433 413.7 436.1 411.2 438.5 408.2 439.6 405.2 439.5 402.2 438.1 399.9 435.5 398.8 432.5 398.9 429 400.2 426 402.7 423.6ZM378.7 461.5 381.7 461 384.7 461.3 387.7 462.4 390.2 463.9 392.4 466 394.2 468.5 395.7 471.8 396.5 475 396.7 478.5 396.3 482 395.4 485 393.9 488 391.9 490.5 389.7 492.5 387.2 493.9 384.2 494.8 381.7 495 378.7 494.5 376.2 493.6 373.7 492 371.6 490 369.7 487.3 368.2 484 367.5 481 367.3 478 367.6 474.5 368.4 471.5 369.7 468.7 371.6 466 373.7 464 376.2 462.4ZM430.7 510.4 433.7 510.5 436.9 512 439.1 514.5 440.2 517.5 440.1 521 438.7 524.1 436.2 526.5 433.2 527.6 430.2 527.5 427.2 526.1 424.9 523.5 423.8 520.5 423.9 517 425.2 514 427.7 511.6ZM356.7 510.7 358.7 511.8 360.2 513.5 361.1 515.5 361.4 518 361.1 520.5 360.2 522.5 358.7 524.2 356.7 525.3Z" fill="#ff8c00"/>
</g>
<rect x="93.3" y="389.2" width="160.1" height="152.4" fill="none" stroke="#999" stroke-width="0.6"/>
<rect x="357.2" y="389.5" width="160.3" height="153.3" fill="none" stroke="#999" stroke-width="0.6"/>
<line x1="0" y1="194.8" x2="685" y2="194.8" stroke="#000" stroke-width="2.2" stroke-dasharray="21.3 3.03" stroke-dashoffset="2.13"/>
<line x1="0" y1="381.1" x2="685" y2="381.1" stroke="#000" stroke-width="2.2" stroke-dasharray="21.3 3.03" stroke-dashoffset="17.03"/>
<rect x="587.3" y="5" width="22.6" height="14.4" fill="#ff0000"/>
<rect x="587.3" y="19.4" width="22.6" height="14.4" fill="#ff4800"/>
<rect x="587.3" y="33.8" width="22.6" height="14.4" fill="#ff8c00"/>
<rect x="587.3" y="48.2" width="22.6" height="14.4" fill="#ffd800"/>
<rect x="587.3" y="62.6" width="22.6" height="14.4" fill="#bfff00"/>
<rect x="587.3" y="77" width="22.6" height="14.4" fill="#1cff00"/>
<rect x="587.3" y="91.4" width="22.6" height="14.4" fill="#00896a"/>
<rect x="587.3" y="105.8" width="22.6" height="14.4" fill="#0000ff"/>
<rect x="587.3" y="18.8" width="22.6" height="1.2" fill="#111"/>
<rect x="587.3" y="33.2" width="22.6" height="1.2" fill="#111"/>
<rect x="587.3" y="47.6" width="22.6" height="1.2" fill="#111"/>
<rect x="587.3" y="62" width="22.6" height="1.2" fill="#111"/>
<rect x="587.3" y="76.4" width="22.6" height="1.2" fill="#111"/>
<rect x="587.3" y="90.8" width="22.6" height="1.2" fill="#111"/>
<rect x="587.3" y="105.2" width="22.6" height="1.2" fill="#111"/>
<rect x="587.3" y="5" width="22.6" height="115.2" fill="none" stroke="#111" stroke-width="1"/>
<text x="614.1" y="8.4" font-family='"Liberation Sans", sans-serif' font-size="10.35" font-weight="normal" fill="#222" text-anchor="start" textLength="62.0" lengthAdjust="spacingAndGlyphs">max = 7.000</text>
<text x="614.1" y="22.8" font-family='"Liberation Sans", sans-serif' font-size="10.35" font-weight="normal" fill="#222" text-anchor="start" >5.061</text>
<text x="614.1" y="37.2" font-family='"Liberation Sans", sans-serif' font-size="10.35" font-weight="normal" fill="#222" text-anchor="start" >3.659</text>
<text x="614.1" y="51.6" font-family='"Liberation Sans", sans-serif' font-size="10.35" font-weight="normal" fill="#222" text-anchor="start" >2.646</text>
<text x="614.1" y="66" font-family='"Liberation Sans", sans-serif' font-size="10.35" font-weight="normal" fill="#222" text-anchor="start" >1.913</text>
<text x="614.1" y="80.4" font-family='"Liberation Sans", sans-serif' font-size="10.35" font-weight="normal" fill="#222" text-anchor="start" >1.383</text>
<text x="614.1" y="94.8" font-family='"Liberation Sans", sans-serif' font-size="10.35" font-weight="normal" fill="#222" text-anchor="start" >1.000</text>
<text x="614.1" y="109.2" font-family='"Liberation Sans", sans-serif' font-size="10.35" font-weight="normal" fill="#222" text-anchor="start" >0.723</text>
<rect x="587.3" y="200.7" width="22.6" height="14.4" fill="#ff0000"/>
<rect x="587.3" y="215.1" width="22.6" height="14.4" fill="#ff4800"/>
<rect x="587.3" y="229.5" width="22.6" height="14.4" fill="#ff8c00"/>
<rect x="587.3" y="243.9" width="22.6" height="14.4" fill="#ffd800"/>
<rect x="587.3" y="258.3" width="22.6" height="14.4" fill="#bfff00"/>
<rect x="587.3" y="272.7" width="22.6" height="14.4" fill="#1cff00"/>
<rect x="587.3" y="287.1" width="22.6" height="14.4" fill="#00896a"/>
<rect x="587.3" y="301.5" width="22.6" height="14.4" fill="#0000ff"/>
<rect x="587.3" y="214.5" width="22.6" height="1.2" fill="#111"/>
<rect x="587.3" y="228.9" width="22.6" height="1.2" fill="#111"/>
<rect x="587.3" y="243.3" width="22.6" height="1.2" fill="#111"/>
<rect x="587.3" y="257.7" width="22.6" height="1.2" fill="#111"/>
<rect x="587.3" y="272.1" width="22.6" height="1.2" fill="#111"/>
<rect x="587.3" y="286.5" width="22.6" height="1.2" fill="#111"/>
<rect x="587.3" y="300.9" width="22.6" height="1.2" fill="#111"/>
<rect x="587.3" y="200.7" width="22.6" height="115.2" fill="none" stroke="#111" stroke-width="1"/>
<text x="614.1" y="204.1" font-family='"Liberation Sans", sans-serif' font-size="10.35" font-weight="normal" fill="#222" text-anchor="start" textLength="61.8" lengthAdjust="spacingAndGlyphs">max = 2.453</text>
<text x="614.1" y="218.5" font-family='"Liberation Sans", sans-serif' font-size="10.35" font-weight="normal" fill="#222" text-anchor="start" >2.112</text>
<text x="614.1" y="232.9" font-family='"Liberation Sans", sans-serif' font-size="10.35" font-weight="normal" fill="#222" text-anchor="start" >1.819</text>
<text x="614.1" y="247.3" font-family='"Liberation Sans", sans-serif' font-size="10.35" font-weight="normal" fill="#222" text-anchor="start" >1.566</text>
<text x="614.1" y="261.7" font-family='"Liberation Sans", sans-serif' font-size="10.35" font-weight="normal" fill="#222" text-anchor="start" >1.349</text>
<text x="614.1" y="276.1" font-family='"Liberation Sans", sans-serif' font-size="10.35" font-weight="normal" fill="#222" text-anchor="start" >1.161</text>
<text x="614.1" y="290.5" font-family='"Liberation Sans", sans-serif' font-size="10.35" font-weight="normal" fill="#222" text-anchor="start" >1.000</text>
<text x="614.1" y="304.9" font-family='"Liberation Sans", sans-serif' font-size="10.35" font-weight="normal" fill="#222" text-anchor="start" >0.861</text>
<rect x="586.7" y="387.8" width="21.1" height="14.4" fill="#ff0000"/>
<rect x="586.7" y="402.2" width="21.1" height="14.4" fill="#ff4800"/>
<rect x="586.7" y="416.6" width="21.1" height="14.4" fill="#ff8c00"/>
<rect x="586.7" y="431" width="21.1" height="14.4" fill="#ffd800"/>
<rect x="586.7" y="445.4" width="21.1" height="14.4" fill="#bfff00"/>
<rect x="586.7" y="459.8" width="21.1" height="14.4" fill="#1cff00"/>
<rect x="586.7" y="474.2" width="21.1" height="14.4" fill="#00896a"/>
<rect x="586.7" y="488.6" width="21.1" height="14.4" fill="#0000ff"/>
<rect x="586.7" y="401.6" width="21.1" height="1.2" fill="#111"/>
<rect x="586.7" y="416" width="21.1" height="1.2" fill="#111"/>
<rect x="586.7" y="430.4" width="21.1" height="1.2" fill="#111"/>
<rect x="586.7" y="444.8" width="21.1" height="1.2" fill="#111"/>
<rect x="586.7" y="459.2" width="21.1" height="1.2" fill="#111"/>
<rect x="586.7" y="473.6" width="21.1" height="1.2" fill="#111"/>
<rect x="586.7" y="488" width="21.1" height="1.2" fill="#111"/>
<rect x="586.7" y="387.8" width="21.1" height="115.2" fill="none" stroke="#111" stroke-width="1"/>
<text x="612" y="391.2" font-family='"Liberation Sans", sans-serif' font-size="10.35" font-weight="normal" fill="#222" text-anchor="start" textLength="63.6" lengthAdjust="spacingAndGlyphs">max = 23.553</text>
<text x="612" y="405.6" font-family='"Liberation Sans", sans-serif' font-size="10.35" font-weight="normal" fill="#222" text-anchor="start" >13.912</text>
<text x="612" y="420" font-family='"Liberation Sans", sans-serif' font-size="10.35" font-weight="normal" fill="#222" text-anchor="start" >8.217</text>
<text x="612" y="434.4" font-family='"Liberation Sans", sans-serif' font-size="10.35" font-weight="normal" fill="#222" text-anchor="start" >4.853</text>
<text x="612" y="448.8" font-family='"Liberation Sans", sans-serif' font-size="10.35" font-weight="normal" fill="#222" text-anchor="start" >2.866</text>
<text x="612" y="463.2" font-family='"Liberation Sans", sans-serif' font-size="10.35" font-weight="normal" fill="#222" text-anchor="start" >1.693</text>
<text x="612" y="477.6" font-family='"Liberation Sans", sans-serif' font-size="10.35" font-weight="normal" fill="#222" text-anchor="start" >1.000</text>
<text x="612" y="492" font-family='"Liberation Sans", sans-serif' font-size="10.35" font-weight="normal" fill="#222" text-anchor="start" >0.591</text>
<text x="586" y="145.2" font-family='"Liberation Serif", serif' font-size="26.5" font-weight="bold" fill="#000" text-anchor="start" >max=</text>
<text x="588" y="177" font-family='"Liberation Serif", serif' font-size="26.5" font-weight="bold" fill="#000" text-anchor="start" >7.000</text>
<text x="15.5" y="218.2" font-family='"Liberation Serif", serif' font-size="27" font-weight="bold" fill="#000" text-anchor="start">(b)</text>
<text x="74.6" y="238.6" font-family='"Liberation Serif", serif' font-size="25" font-weight="bold" fill="#000" text-anchor="start" textLength="50.5" lengthAdjust="spacingAndGlyphs">[111]</text>
<text x="266.1" y="238.6" font-family='"Liberation Serif", serif' font-size="25" font-weight="bold" fill="#000" text-anchor="start" textLength="50.5" lengthAdjust="spacingAndGlyphs">[110]</text>
<text x="458.3" y="238.6" font-family='"Liberation Serif", serif' font-size="25" font-weight="bold" fill="#000" text-anchor="start" textLength="50.5" lengthAdjust="spacingAndGlyphs">[100]</text>
<text x="140.1" y="230.3" font-family='"Liberation Sans", sans-serif' font-size="10.2" font-weight="normal" fill="#111" text-anchor="middle">1</text><text x="149.6" y="230.3" font-family='"Liberation Sans", sans-serif' font-size="10.2" font-weight="normal" fill="#111" text-anchor="middle">1</text><text x="160.5" y="230.3" font-family='"Liberation Sans", sans-serif' font-size="10.2" font-weight="normal" fill="#111" text-anchor="middle">1</text>
<text x="331.5" y="230.3" font-family='"Liberation Sans", sans-serif' font-size="10.2" font-weight="normal" fill="#111" text-anchor="middle">1</text><text x="341.8" y="230.3" font-family='"Liberation Sans", sans-serif' font-size="10.2" font-weight="normal" fill="#111" text-anchor="middle">1</text><text x="351.7" y="230.3" font-family='"Liberation Sans", sans-serif' font-size="10.2" font-weight="normal" fill="#111" text-anchor="middle">1</text>
<text x="523" y="230.3" font-family='"Liberation Sans", sans-serif' font-size="10.2" font-weight="normal" fill="#111" text-anchor="middle">1</text><text x="532.9" y="230.3" font-family='"Liberation Sans", sans-serif' font-size="10.2" font-weight="normal" fill="#111" text-anchor="middle">1</text><text x="543.4" y="230.3" font-family='"Liberation Sans", sans-serif' font-size="10.2" font-weight="normal" fill="#111" text-anchor="middle">1</text>
<text x="25.8" y="363.6" font-family='"Liberation Sans", sans-serif' font-size="11" font-weight="normal" fill="#111" text-anchor="middle">0</text><text x="35.4" y="363.6" font-family='"Liberation Sans", sans-serif' font-size="11" font-weight="normal" fill="#111" text-anchor="middle">0</text><text x="46" y="363.6" font-family='"Liberation Sans", sans-serif' font-size="11" font-weight="normal" fill="#111" text-anchor="middle">1</text>
<text x="154.9" y="363.6" font-family='"Liberation Sans", sans-serif' font-size="11" font-weight="normal" fill="#111" text-anchor="middle">1</text><text x="164.8" y="363.6" font-family='"Liberation Sans", sans-serif' font-size="11" font-weight="normal" fill="#111" text-anchor="middle">0</text><text x="174.2" y="363.6" font-family='"Liberation Sans", sans-serif' font-size="11" font-weight="normal" fill="#111" text-anchor="middle">1</text>
<text x="217.4" y="363.6" font-family='"Liberation Sans", sans-serif' font-size="11" font-weight="normal" fill="#111" text-anchor="middle">0</text><text x="227.4" y="363.6" font-family='"Liberation Sans", sans-serif' font-size="11" font-weight="normal" fill="#111" text-anchor="middle">0</text><text x="238.3" y="363.6" font-family='"Liberation Sans", sans-serif' font-size="11" font-weight="normal" fill="#111" text-anchor="middle">1</text>
<text x="346.2" y="363.6" font-family='"Liberation Sans", sans-serif' font-size="11" font-weight="normal" fill="#111" text-anchor="middle">1</text><text x="356.4" y="363.6" font-family='"Liberation Sans", sans-serif' font-size="11" font-weight="normal" fill="#111" text-anchor="middle">0</text><text x="366.4" y="363.6" font-family='"Liberation Sans", sans-serif' font-size="11" font-weight="normal" fill="#111" text-anchor="middle">1</text>
<text x="408.7" y="363.6" font-family='"Liberation Sans", sans-serif' font-size="11" font-weight="normal" fill="#111" text-anchor="middle">0</text><text x="418.6" y="363.6" font-family='"Liberation Sans", sans-serif' font-size="11" font-weight="normal" fill="#111" text-anchor="middle">0</text><text x="429.3" y="363.6" font-family='"Liberation Sans", sans-serif' font-size="11" font-weight="normal" fill="#111" text-anchor="middle">1</text>
<text x="537.1" y="363.6" font-family='"Liberation Sans", sans-serif' font-size="11" font-weight="normal" fill="#111" text-anchor="middle">1</text><text x="547.7" y="363.6" font-family='"Liberation Sans", sans-serif' font-size="11" font-weight="normal" fill="#111" text-anchor="middle">0</text><text x="557.6" y="363.6" font-family='"Liberation Sans", sans-serif' font-size="11" font-weight="normal" fill="#111" text-anchor="middle">1</text>
<text x="36.7" y="304" font-family='"Liberation Serif", serif' font-size="16.5" font-weight="bold" fill="#ff0000" text-anchor="start" textLength="34.6" lengthAdjust="spacingAndGlyphs">[115]</text>
<text x="164.4" y="276.7" font-family='"Liberation Serif", serif' font-size="16.5" font-weight="bold" fill="#ff0000" text-anchor="start" textLength="34.6" lengthAdjust="spacingAndGlyphs">[212]</text>
<text x="102.3" y="372.2" font-family='"Liberation Serif", serif' font-size="16.5" font-weight="bold" fill="#ff0000" text-anchor="start" textLength="34.6" lengthAdjust="spacingAndGlyphs">[102]</text>
<text x="254.5" y="271.6" font-family='"Liberation Serif", serif' font-size="16.5" font-weight="bold" fill="#ff0000" text-anchor="start" textLength="34.6" lengthAdjust="spacingAndGlyphs">[112]</text>
<text x="361.7" y="322.9" font-family='"Liberation Serif", serif' font-size="16.5" font-weight="bold" fill="#ff0000" text-anchor="start" textLength="34.6" lengthAdjust="spacingAndGlyphs">[313]</text>
<text x="273.4" y="372.5" font-family='"Liberation Serif", serif' font-size="16.5" font-weight="bold" fill="#ff0000" text-anchor="start" textLength="34.6" lengthAdjust="spacingAndGlyphs">[103]</text>
<text x="548.9" y="321.9" font-family='"Liberation Serif", serif' font-size="16.5" font-weight="bold" fill="#ff0000" text-anchor="start" textLength="34.6" lengthAdjust="spacingAndGlyphs">[313]</text>
<text x="453.5" y="372.8" font-family='"Liberation Serif", serif' font-size="16.5" font-weight="bold" fill="#ff0000" text-anchor="start" textLength="34.6" lengthAdjust="spacingAndGlyphs">[103]</text>
<text x="586" y="336" font-family='"Liberation Serif", serif' font-size="26.5" font-weight="bold" fill="#000" text-anchor="start">max=</text>
<text x="588" y="367" font-family='"Liberation Serif", serif' font-size="26.5" font-weight="bold" fill="#000" text-anchor="start">2.453</text>
<text x="19" y="409" font-family='"Liberation Serif", serif' font-size="27" font-weight="bold" fill="#000" text-anchor="start">(f)</text>
<text x="119.3" y="490.8" font-family='"Liberation Serif", serif' font-size="15.5" font-weight="bold" fill="#ffffff" text-anchor="start" textLength="69" lengthAdjust="spacingAndGlyphs">{110}[112]</text>
<text x="170.2" y="537" font-family='"Liberation Serif", serif' font-size="15.5" font-weight="bold" fill="#ffffff" text-anchor="start" textLength="69.3" lengthAdjust="spacingAndGlyphs">{110}[110]</text>
<text x="444.7" y="432" font-family='"Liberation Serif", serif' font-size="15.5" font-weight="bold" fill="#ffffff" text-anchor="start" textLength="69.6" lengthAdjust="spacingAndGlyphs">{112}[111]</text>
<text x="356.5" y="461.4" font-family='"Liberation Serif", serif' font-size="15.5" font-weight="bold" fill="#ffffff" text-anchor="start" textLength="69.4" lengthAdjust="spacingAndGlyphs">{111}[115]</text>
<text x="432.9" y="477.2" font-family='"Liberation Serif", serif' font-size="15.5" font-weight="bold" fill="#ffffff" text-anchor="start" textLength="70.1" lengthAdjust="spacingAndGlyphs">{111}[110]</text>
<text x="439.2" y="540.4" font-family='"Liberation Serif", serif' font-size="15.5" font-weight="bold" fill="#ffffff" text-anchor="start" textLength="69" lengthAdjust="spacingAndGlyphs">{110}[001]</text>
<line x1="92.2" y1="466.2" x2="254" y2="466.2" stroke="#000" stroke-width="2.1" stroke-dasharray="15.2 8.9" stroke-dashoffset="0"/>
<line x1="357.5" y1="492.7" x2="518" y2="492.7" stroke="#000" stroke-width="2.1" stroke-dasharray="15.2 8.9" stroke-dashoffset="0"/>
<line x1="357.5" y1="543.4" x2="518.8" y2="543.4" stroke="#000" stroke-width="2.1" stroke-dasharray="15.2 8.9" stroke-dashoffset="0"/>
<line x1="517.8" y1="389.5" x2="517.8" y2="543.5" stroke="#000" stroke-width="2.1" stroke-dasharray="14 8" stroke-dashoffset="17.1"/>
<line x1="58.40" y1="466.20" x2="79.00" y2="466.20" stroke="#000" stroke-width="1.6"/><path d="M92.60 466.20 L76.00 474.60 L78.50 466.20 L76.00 457.80 Z" fill="#000"/>
<line x1="331.60" y1="492.80" x2="343.90" y2="492.80" stroke="#000" stroke-width="1.6"/><path d="M357.50 492.80 L340.90 501.20 L343.40 492.80 L340.90 484.40 Z" fill="#000"/>
<line x1="331.60" y1="543.40" x2="343.90" y2="543.40" stroke="#000" stroke-width="1.6"/><path d="M357.50 543.40 L340.90 551.80 L343.40 543.40 L340.90 535.00 Z" fill="#000"/>
<line x1="540.70" y1="425.50" x2="528.93" y2="430.67" stroke="#000" stroke-width="1.6"/><path d="M518.40 435.30 L528.66 422.60 L529.39 430.47 L534.69 436.33 Z" fill="#000"/>
<text x="9.7" y="471" font-family='"Liberation Serif", serif' font-size="14.5" font-weight="bold" fill="#000" text-anchor="start" textLength="45.2" lengthAdjust="spacingAndGlyphs">&#945;-fiber</text>
<text x="281.9" y="497.5" font-family='"Liberation Serif", serif' font-size="14.5" font-weight="bold" fill="#000" text-anchor="start" textLength="46.5" lengthAdjust="spacingAndGlyphs">&#955;-fiber</text>
<text x="281.9" y="548.4" font-family='"Liberation Serif", serif' font-size="14.5" font-weight="bold" fill="#000" text-anchor="start" textLength="45.7" lengthAdjust="spacingAndGlyphs">&#945;-fiber</text>
<text x="520.4" y="422.2" font-family='"Liberation Serif", serif' font-size="14.5" font-weight="bold" fill="#000" text-anchor="start" textLength="44.6" lengthAdjust="spacingAndGlyphs">&#964;-fiber</text>
<text x="138.9" y="565" font-family='"Liberation Serif", serif' font-size="26" font-weight="bold" fill="#000" text-anchor="start" textLength="67.8" lengthAdjust="spacingAndGlyphs">&#966;2=0&#176;</text>
<text x="396.9" y="565.2" font-family='"Liberation Serif", serif' font-size="26" font-weight="bold" fill="#000" text-anchor="start" textLength="81" lengthAdjust="spacingAndGlyphs">&#966;2=45&#176;</text>
<text x="586" y="528.7" font-family='"Liberation Serif", serif' font-size="26.5" font-weight="bold" fill="#000" text-anchor="start">max=</text>
<text x="582" y="559.4" font-family='"Liberation Serif", serif' font-size="26.5" font-weight="bold" fill="#000" text-anchor="start">23.553</text>
<path d="M-2 507.7 H78.4 V575" fill="none" stroke="#000" stroke-width="2"/>
<path d="M9.65 564 V519.4 H40" fill="none" stroke="#000" stroke-width="1.7"/>
<path d="M55.10 519.40 L38.60 527.60 L41.10 519.40 L38.60 511.20 Z" fill="#000"/>
<path d="M9.65 563.80 L1.65 548.20 L9.65 550.70 L17.65 548.20 Z" fill="#000"/>
<text x="42.6" y="539" font-family='"Liberation Serif", serif' font-size="22" font-weight="bold" fill="#000" text-anchor="start" textLength="26.5" lengthAdjust="spacingAndGlyphs">&#966;1</text>
<text x="18.2" y="564.5" font-family='"Liberation Serif", serif' font-size="22" font-weight="bold" fill="#000" text-anchor="start">&#934;</text>
</svg>
</body></html>
